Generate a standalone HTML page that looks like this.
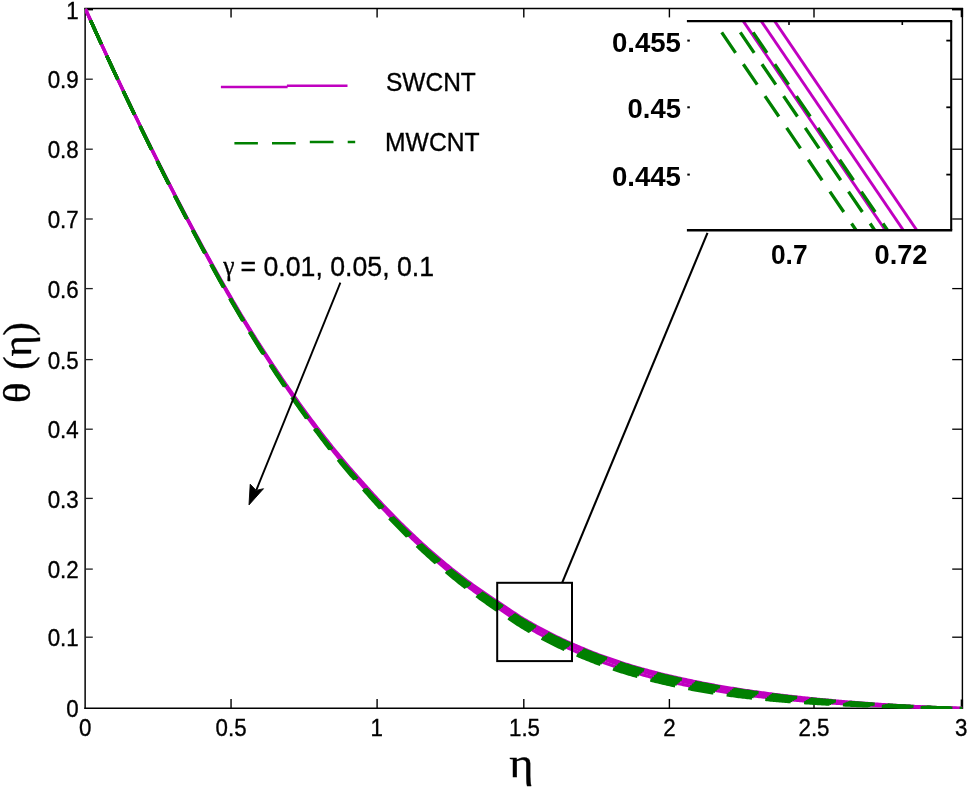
<!DOCTYPE html>
<html lang="en"><head><meta charset="utf-8"><title>θ(η) vs η</title>
<style>html,body{margin:0;padding:0;background:#fff}svg{display:block}text{fill:#000;stroke:#000;stroke-width:0.35px}</style>
</head><body>
<svg width="968" height="789" viewBox="0 0 968 789">
<rect x="0" y="0" width="968" height="789" fill="#fff"/>
<defs><clipPath id="pc"><rect x="85.15" y="8.60" width="877.25" height="700.30"/></clipPath>
<clipPath id="ic"><rect x="687" y="21" width="264.5" height="209.5"/></clipPath></defs>
<g stroke="#000" fill="none">
<line x1="85.15" y1="7.90" x2="85.15" y2="709.00" stroke-width="1.7" stroke="#222"/>
<line x1="84.35" y1="708.30" x2="963.10" y2="708.30" stroke-width="1.5"/>
<line x1="84.35" y1="8.60" x2="963.10" y2="8.60" stroke-width="1.5"/>
<line x1="962.40" y1="7.90" x2="962.40" y2="709.00" stroke-width="1.4"/>
<line x1="231.05" y1="708.30" x2="231.05" y2="699.00" stroke-width="1.4"/>
<line x1="231.05" y1="8.60" x2="231.05" y2="17.40" stroke-width="1.4"/>
<line x1="377.10" y1="708.30" x2="377.10" y2="699.00" stroke-width="1.4"/>
<line x1="377.10" y1="8.60" x2="377.10" y2="17.40" stroke-width="1.4"/>
<line x1="523.80" y1="708.30" x2="523.80" y2="699.00" stroke-width="1.4"/>
<line x1="523.80" y1="8.60" x2="523.80" y2="17.40" stroke-width="1.4"/>
<line x1="669.40" y1="708.30" x2="669.40" y2="699.00" stroke-width="1.4"/>
<line x1="669.40" y1="8.60" x2="669.40" y2="17.40" stroke-width="1.4"/>
<line x1="814.00" y1="708.30" x2="814.00" y2="699.00" stroke-width="1.4"/>
<line x1="814.00" y1="8.60" x2="814.00" y2="17.40" stroke-width="1.4"/>
<line x1="961.90" y1="8.60" x2="961.90" y2="17.20" stroke-width="2.4"/>
<line x1="961.90" y1="708.30" x2="961.90" y2="699.50" stroke-width="2.4"/>
<line x1="85.15" y1="9.20" x2="93.00" y2="9.20" stroke-width="2.4"/>
<line x1="952.00" y1="9.20" x2="962.40" y2="9.20" stroke-width="2.4"/>
<line x1="85.15" y1="637.20" x2="92.80" y2="637.20" stroke-width="1.3" stroke="#222"/>
<line x1="962.40" y1="637.20" x2="952.20" y2="637.20" stroke-width="1.3"/>
<line x1="85.15" y1="569.10" x2="92.80" y2="569.10" stroke-width="1.3" stroke="#222"/>
<line x1="962.40" y1="569.10" x2="952.20" y2="569.10" stroke-width="1.3"/>
<line x1="85.15" y1="498.40" x2="92.80" y2="498.40" stroke-width="1.3" stroke="#222"/>
<line x1="962.40" y1="498.40" x2="952.20" y2="498.40" stroke-width="1.3"/>
<line x1="85.15" y1="429.20" x2="92.80" y2="429.20" stroke-width="1.3" stroke="#222"/>
<line x1="962.40" y1="429.20" x2="952.20" y2="429.20" stroke-width="1.3"/>
<line x1="85.15" y1="359.60" x2="92.80" y2="359.60" stroke-width="1.3" stroke="#222"/>
<line x1="962.40" y1="359.60" x2="952.20" y2="359.60" stroke-width="1.3"/>
<line x1="85.15" y1="288.60" x2="92.80" y2="288.60" stroke-width="1.3" stroke="#222"/>
<line x1="962.40" y1="288.60" x2="952.20" y2="288.60" stroke-width="1.3"/>
<line x1="85.15" y1="219.00" x2="92.80" y2="219.00" stroke-width="1.3" stroke="#222"/>
<line x1="962.40" y1="219.00" x2="952.20" y2="219.00" stroke-width="1.3"/>
<line x1="85.15" y1="149.20" x2="92.80" y2="149.20" stroke-width="1.3" stroke="#222"/>
<line x1="962.40" y1="149.20" x2="952.20" y2="149.20" stroke-width="1.3"/>
<line x1="85.15" y1="79.20" x2="92.80" y2="79.20" stroke-width="1.3" stroke="#222"/>
<line x1="962.40" y1="79.20" x2="952.20" y2="79.20" stroke-width="1.3"/>
</g>
<g clip-path="url(#pc)" fill="none" stroke-linejoin="round">
<path d="M85.15,8.30 L86.61,11.56 L88.07,14.81 L89.54,18.06 L91.00,21.30 L92.46,24.53 L93.92,27.75 L95.38,30.97 L96.85,34.18 L98.31,37.38 L99.77,40.58 L101.23,43.77 L102.69,46.95 L104.16,50.12 L105.62,53.29 L107.08,56.45 L108.54,59.60 L110.00,62.74 L111.47,65.88 L112.93,69.01 L114.39,72.14 L115.85,75.25 L117.31,78.36 L118.78,81.47 L120.24,84.56 L121.70,87.65 L123.16,90.73 L124.62,93.80 L126.09,96.87 L127.55,99.93 L129.01,102.98 L130.47,106.02 L131.93,109.06 L133.40,112.10 L134.86,115.13 L136.32,118.15 L137.78,121.16 L139.24,124.17 L140.71,127.18 L142.17,130.18 L143.63,133.17 L145.09,136.16 L146.55,139.14 L148.02,142.11 L149.48,145.08 L150.94,148.04 L152.40,150.99 L153.86,153.94 L155.33,156.88 L156.79,159.81 L158.25,162.74 L159.71,165.66 L161.17,168.57 L162.64,171.48 L164.10,174.38 L165.56,177.27 L167.02,180.16 L168.48,183.03 L169.95,185.90 L171.41,188.77 L172.87,191.62 L174.33,194.47 L175.79,197.31 L177.26,200.14 L178.72,202.97 L180.18,205.78 L181.64,208.59 L183.10,211.39 L184.57,214.18 L186.03,216.97 L187.49,219.74 L188.95,222.51 L190.41,225.28 L191.88,228.04 L193.34,230.79 L194.80,233.54 L196.26,236.28 L197.72,239.01 L199.19,241.74 L200.65,244.46 L202.11,247.18 L203.57,249.88 L205.03,252.58 L206.50,255.28 L207.96,257.96 L209.42,260.64 L210.88,263.31 L212.34,265.97 L213.81,268.63 L215.27,271.27 L216.73,273.91 L218.19,276.53 L219.65,279.15 L221.12,281.76 L222.58,284.36 L224.04,286.95 L225.50,289.53 L226.96,292.11 L228.43,294.67 L229.89,297.22 L231.35,299.76 L232.81,302.29 L234.27,304.80 L235.74,307.31 L237.20,309.81 L238.66,312.29 L240.12,314.76 L241.58,317.23 L243.05,319.68 L244.51,322.11 L245.97,324.54 L247.43,326.95 L248.89,329.35 L250.36,331.74 L251.82,334.11 L253.28,336.48 L254.74,338.83 L256.20,341.17 L257.67,343.50 L259.13,345.82 L260.59,348.12 L262.05,350.42 L263.51,352.70 L264.98,354.98 L266.44,357.24 L267.90,359.50 L269.36,361.74 L270.82,363.98 L272.29,366.20 L273.75,368.42 L275.21,370.62 L276.67,372.82 L278.13,375.00 L279.60,377.18 L281.06,379.35 L282.52,381.52 L283.98,383.67 L285.44,385.81 L286.91,387.95 L288.37,390.08 L289.83,392.20 L291.29,394.32 L292.75,396.42 L294.22,398.52 L295.68,400.60 L297.14,402.68 L298.60,404.75 L300.06,406.81 L301.53,408.86 L302.99,410.90 L304.45,412.94 L305.91,414.96 L307.37,416.98 L308.84,418.98 L310.30,420.98 L311.76,422.97 L313.22,424.94 L314.68,426.91 L316.15,428.87 L317.61,430.82 L319.07,432.76 L320.53,434.70 L321.99,436.62 L323.46,438.53 L324.92,440.44 L326.38,442.33 L327.84,444.21 L329.30,446.09 L330.77,447.96 L332.23,449.81 L333.69,451.66 L335.15,453.50 L336.61,455.32 L338.08,457.13 L339.54,458.93 L341.00,460.71 L342.46,462.48 L343.92,464.25 L345.39,466.00 L346.85,467.74 L348.31,469.47 L349.77,471.20 L351.23,472.91 L352.70,474.62 L354.16,476.32 L355.62,478.01 L357.08,479.69 L358.54,481.37 L360.01,483.05 L361.47,484.71 L362.93,486.38 L364.39,488.04 L365.85,489.69 L367.32,491.35 L368.78,493.00 L370.24,494.64 L371.70,496.29 L373.16,497.92 L374.63,499.55 L376.09,501.16 L377.55,502.77 L379.01,504.37 L380.47,505.97 L381.94,507.55 L383.40,509.13 L384.86,510.70 L386.32,512.26 L387.78,513.81 L389.25,515.36 L390.71,516.89 L392.17,518.42 L393.63,519.94 L395.09,521.46 L396.56,522.96 L398.02,524.46 L399.48,525.95 L400.94,527.43 L402.40,528.91 L403.87,530.37 L405.33,531.83 L406.79,533.28 L408.25,534.72 L409.71,536.16 L411.18,537.58 L412.64,539.00 L414.10,540.41 L415.56,541.81 L417.02,543.21 L418.49,544.59 L419.95,545.97 L421.41,547.34 L422.87,548.71 L424.33,550.06 L425.80,551.41 L427.26,552.74 L428.72,554.07 L430.18,555.39 L431.64,556.70 L433.11,558.01 L434.57,559.30 L436.03,560.59 L437.49,561.87 L438.95,563.14 L440.42,564.40 L441.88,565.65 L443.34,566.90 L444.80,568.14 L446.26,569.37 L447.73,570.59 L449.19,571.80 L450.65,573.00 L452.11,574.20 L453.57,575.38 L455.04,576.56 L456.50,577.73 L457.96,578.90 L459.42,580.05 L460.88,581.20 L462.35,582.33 L463.81,583.46 L465.27,584.59 L466.73,585.70 L468.19,586.81 L469.66,587.91 L471.12,589.00 L472.58,590.08 L474.04,591.16 L475.50,592.23 L476.97,593.29 L478.43,594.35 L479.89,595.39 L481.35,596.43 L482.81,597.47 L484.28,598.49 L485.74,599.51 L487.20,600.52 L488.66,601.53 L490.12,602.52 L491.59,603.51 L493.05,604.50 L494.51,605.47 L495.97,606.44 L497.43,607.40 L498.90,608.37 L500.36,609.35 L501.82,610.34 L503.28,611.34 L504.74,612.34 L506.21,613.35 L507.67,614.37 L509.13,615.38 L510.59,616.39 L512.05,617.40 L513.52,618.39 L514.98,619.38 L516.44,620.36 L517.90,621.32 L519.36,622.27 L520.83,623.19 L522.29,624.10 L523.75,624.98 L525.21,625.84 L526.67,626.70 L528.14,627.55 L529.60,628.39 L531.06,629.22 L532.52,630.05 L533.98,630.87 L535.45,631.68 L536.91,632.49 L538.37,633.28 L539.83,634.07 L541.29,634.86 L542.76,635.63 L544.22,636.40 L545.68,637.17 L547.14,637.92 L548.60,638.67 L550.07,639.41 L551.53,640.15 L552.99,640.88 L554.45,641.60 L555.91,642.32 L557.38,643.03 L558.84,643.73 L560.30,644.43 L561.76,645.12 L563.22,645.80 L564.69,646.48 L566.15,647.15 L567.61,647.82 L569.07,648.48 L570.53,649.13 L572.00,649.78 L573.46,650.42 L574.92,651.06 L576.38,651.69 L577.84,652.32 L579.31,652.94 L580.77,653.55 L582.23,654.16 L583.69,654.77 L585.15,655.37 L586.62,655.96 L588.08,656.55 L589.54,657.13 L591.00,657.71 L592.46,658.29 L593.93,658.85 L595.39,659.42 L596.85,659.98 L598.31,660.53 L599.77,661.08 L601.24,661.62 L602.70,662.16 L604.16,662.69 L605.62,663.22 L607.08,663.74 L608.55,664.25 L610.01,664.76 L611.47,665.27 L612.93,665.77 L614.39,666.27 L615.86,666.76 L617.32,667.24 L618.78,667.72 L620.24,668.19 L621.70,668.66 L623.17,669.12 L624.63,669.58 L626.09,670.03 L627.55,670.48 L629.01,670.92 L630.48,671.36 L631.94,671.80 L633.40,672.23 L634.86,672.65 L636.32,673.08 L637.79,673.50 L639.25,673.91 L640.71,674.32 L642.17,674.73 L643.63,675.13 L645.10,675.53 L646.56,675.92 L648.02,676.31 L649.48,676.70 L650.94,677.08 L652.41,677.46 L653.87,677.83 L655.33,678.20 L656.79,678.57 L658.25,678.94 L659.72,679.30 L661.18,679.65 L662.64,680.01 L664.10,680.36 L665.56,680.70 L667.03,681.04 L668.49,681.38 L669.95,681.72 L671.41,682.05 L672.87,682.38 L674.34,682.70 L675.80,683.03 L677.26,683.34 L678.72,683.66 L680.18,683.97 L681.65,684.28 L683.11,684.58 L684.57,684.88 L686.03,685.18 L687.49,685.48 L688.96,685.77 L690.42,686.06 L691.88,686.34 L693.34,686.63 L694.80,686.90 L696.27,687.18 L697.73,687.45 L699.19,687.72 L700.65,687.99 L702.11,688.26 L703.58,688.52 L705.04,688.78 L706.50,689.03 L707.96,689.28 L709.42,689.54 L710.89,689.78 L712.35,690.03 L713.81,690.27 L715.27,690.51 L716.73,690.75 L718.20,690.98 L719.66,691.21 L721.12,691.44 L722.58,691.67 L724.04,691.89 L725.51,692.11 L726.97,692.33 L728.43,692.55 L729.89,692.76 L731.35,692.97 L732.82,693.18 L734.28,693.39 L735.74,693.60 L737.20,693.80 L738.66,694.00 L740.13,694.20 L741.59,694.40 L743.05,694.59 L744.51,694.78 L745.97,694.97 L747.44,695.16 L748.90,695.34 L750.36,695.53 L751.82,695.71 L753.28,695.89 L754.75,696.06 L756.21,696.24 L757.67,696.41 L759.13,696.58 L760.59,696.75 L762.06,696.92 L763.52,697.08 L764.98,697.25 L766.44,697.41 L767.90,697.57 L769.37,697.72 L770.83,697.88 L772.29,698.03 L773.75,698.18 L775.21,698.33 L776.68,698.48 L778.14,698.63 L779.60,698.77 L781.06,698.91 L782.52,699.06 L783.99,699.20 L785.45,699.33 L786.91,699.47 L788.37,699.61 L789.83,699.74 L791.30,699.87 L792.76,700.00 L794.22,700.13 L795.68,700.26 L797.14,700.38 L798.61,700.51 L800.07,700.63 L801.53,700.75 L802.99,700.87 L804.45,700.99 L805.92,701.11 L807.38,701.23 L808.84,701.34 L810.30,701.46 L811.76,701.57 L813.23,701.68 L814.69,701.79 L816.15,701.90 L817.61,702.01 L819.07,702.12 L820.54,702.22 L822.00,702.33 L823.46,702.43 L824.92,702.53 L826.38,702.63 L827.85,702.73 L829.31,702.83 L830.77,702.93 L832.23,703.03 L833.69,703.12 L835.16,703.22 L836.62,703.31 L838.08,703.40 L839.54,703.49 L841.00,703.58 L842.47,703.67 L843.93,703.76 L845.39,703.85 L846.85,703.93 L848.31,704.02 L849.78,704.10 L851.24,704.19 L852.70,704.27 L854.16,704.35 L855.62,704.43 L857.09,704.51 L858.55,704.59 L860.01,704.67 L861.47,704.75 L862.93,704.82 L864.40,704.90 L865.86,704.98 L867.32,705.05 L868.78,705.12 L870.24,705.20 L871.71,705.27 L873.17,705.34 L874.63,705.41 L876.09,705.48 L877.55,705.55 L879.02,705.62 L880.48,705.69 L881.94,705.76 L883.40,705.83 L884.86,705.89 L886.33,705.96 L887.79,706.03 L889.25,706.09 L890.71,706.16 L892.17,706.22 L893.64,706.28 L895.10,706.35 L896.56,706.41 L898.02,706.47 L899.48,706.53 L900.95,706.59 L902.41,706.65 L903.87,706.71 L905.33,706.77 L906.79,706.82 L908.26,706.88 L909.72,706.94 L911.18,706.99 L912.64,707.05 L914.10,707.10 L915.57,707.16 L917.03,707.21 L918.49,707.26 L919.95,707.31 L921.41,707.37 L922.88,707.42 L924.34,707.47 L925.80,707.51 L927.26,707.56 L928.72,707.61 L930.19,707.66 L931.65,707.70 L933.11,707.75 L934.57,707.79 L936.03,707.83 L937.50,707.87 L938.96,707.91 L940.42,707.95 L941.88,707.99 L943.34,708.03 L944.81,708.06 L946.27,708.10 L947.73,708.13 L949.19,708.16 L950.65,708.19 L952.12,708.21 L953.58,708.23 L955.04,708.25 L956.50,708.27 L957.96,708.29 L959.43,708.30 L960.89,708.30 L962.35,708.30" stroke="#c000c0" stroke-width="3.2"/>
<path d="M85.15,8.30 L86.61,11.55 L88.07,14.80 L89.54,18.03 L91.00,21.26 L92.46,24.49 L93.92,27.70 L95.38,30.91 L96.85,34.12 L98.31,37.31 L99.77,40.50 L101.23,43.68 L102.69,46.85 L104.16,50.02 L105.62,53.17 L107.08,56.33 L108.54,59.47 L110.00,62.61 L111.47,65.74 L112.93,68.86 L114.39,71.98 L115.85,75.08 L117.31,78.18 L118.78,81.28 L120.24,84.37 L121.70,87.44 L123.16,90.52 L124.62,93.58 L126.09,96.64 L127.55,99.69 L129.01,102.73 L130.47,105.77 L131.93,108.80 L133.40,111.82 L134.86,114.84 L136.32,117.86 L137.78,120.87 L139.24,123.87 L140.71,126.86 L142.17,129.85 L143.63,132.84 L145.09,135.81 L146.55,138.78 L148.02,141.75 L149.48,144.71 L150.94,147.66 L152.40,150.60 L153.86,153.54 L155.33,156.47 L156.79,159.40 L158.25,162.32 L159.71,165.23 L161.17,168.13 L162.64,171.03 L164.10,173.92 L165.56,176.80 L167.02,179.68 L168.48,182.55 L169.95,185.41 L171.41,188.26 L172.87,191.11 L174.33,193.94 L175.79,196.78 L177.26,199.60 L178.72,202.41 L180.18,205.22 L181.64,208.02 L183.10,210.81 L184.57,213.59 L186.03,216.37 L187.49,219.13 L188.95,221.89 L190.41,224.65 L191.88,227.40 L193.34,230.14 L194.80,232.88 L196.26,235.61 L197.72,238.33 L199.19,241.05 L200.65,243.76 L202.11,246.47 L203.57,249.17 L205.03,251.86 L206.50,254.54 L207.96,257.21 L209.42,259.88 L210.88,262.54 L212.34,265.19 L213.81,267.84 L215.27,270.47 L216.73,273.10 L218.19,275.71 L219.65,278.32 L221.12,280.92 L222.58,283.51 L224.04,286.09 L225.50,288.66 L226.96,291.22 L228.43,293.77 L229.89,296.31 L231.35,298.84 L232.81,301.35 L234.27,303.86 L235.74,306.36 L237.20,308.84 L238.66,311.32 L240.12,313.78 L241.58,316.23 L243.05,318.67 L244.51,321.10 L245.97,323.51 L247.43,325.91 L248.89,328.30 L250.36,330.68 L251.82,333.04 L253.28,335.39 L254.74,337.74 L256.20,340.07 L257.67,342.38 L259.13,344.69 L260.59,346.99 L262.05,349.27 L263.51,351.55 L264.98,353.81 L266.44,356.06 L267.90,358.31 L269.36,360.54 L270.82,362.77 L272.29,364.98 L273.75,367.18 L275.21,369.38 L276.67,371.57 L278.13,373.74 L279.60,375.91 L281.06,378.07 L282.52,380.22 L283.98,382.37 L285.44,384.50 L286.91,386.63 L288.37,388.75 L289.83,390.86 L291.29,392.97 L292.75,395.06 L294.22,397.15 L295.68,399.23 L297.14,401.29 L298.60,403.35 L300.06,405.40 L301.53,407.44 L302.99,409.47 L304.45,411.49 L305.91,413.51 L307.37,415.51 L308.84,417.50 L310.30,419.49 L311.76,421.46 L313.22,423.43 L314.68,425.38 L316.15,427.33 L317.61,429.27 L319.07,431.20 L320.53,433.12 L321.99,435.02 L323.46,436.92 L324.92,438.81 L326.38,440.70 L327.84,442.57 L329.30,444.43 L330.77,446.28 L332.23,448.12 L333.69,449.96 L335.15,451.78 L336.61,453.59 L338.08,455.38 L339.54,457.17 L341.00,458.94 L342.46,460.70 L343.92,462.44 L345.39,464.18 L346.85,465.91 L348.31,467.63 L349.77,469.33 L351.23,471.04 L352.70,472.73 L354.16,474.41 L355.62,476.09 L357.08,477.76 L358.54,479.42 L360.01,481.08 L361.47,482.74 L362.93,484.39 L364.39,486.03 L365.85,487.68 L367.32,489.31 L368.78,490.95 L370.24,492.58 L371.70,494.21 L373.16,495.83 L374.63,497.45 L376.09,499.05 L377.55,500.65 L379.01,502.24 L380.47,503.82 L381.94,505.39 L383.40,506.95 L384.86,508.51 L386.32,510.06 L387.78,511.60 L389.25,513.13 L390.71,514.65 L392.17,516.17 L393.63,517.68 L395.09,519.18 L396.56,520.67 L398.02,522.16 L399.48,523.64 L400.94,525.11 L402.40,526.57 L403.87,528.02 L405.33,529.47 L406.79,530.90 L408.25,532.33 L409.71,533.76 L411.18,535.17 L412.64,536.58 L414.10,537.97 L415.56,539.36 L417.02,540.75 L418.49,542.12 L419.95,543.49 L421.41,544.85 L422.87,546.20 L424.33,547.54 L425.80,548.87 L427.26,550.20 L428.72,551.52 L430.18,552.82 L431.64,554.12 L433.11,555.42 L434.57,556.70 L436.03,557.98 L437.49,559.24 L438.95,560.50 L440.42,561.75 L441.88,563.00 L443.34,564.23 L444.80,565.46 L446.26,566.67 L447.73,567.88 L449.19,569.08 L450.65,570.28 L452.11,571.46 L453.57,572.64 L455.04,573.81 L456.50,574.97 L457.96,576.12 L459.42,577.26 L460.88,578.40 L462.35,579.53 L463.81,580.64 L465.27,581.75 L466.73,582.86 L468.19,583.95 L469.66,585.04 L471.12,586.12 L472.58,587.19 L474.04,588.25 L475.50,589.31 L476.97,590.36 L478.43,591.40 L479.89,592.44 L481.35,593.47 L482.81,594.49 L484.28,595.50 L485.74,596.50 L487.20,597.50 L488.66,598.50 L490.12,599.48 L491.59,600.46 L493.05,601.43 L494.51,602.39 L495.97,603.35 L497.43,604.30 L498.90,605.25 L500.36,606.22 L501.82,607.21 L503.28,608.20 L504.74,609.19 L506.21,610.20 L507.67,611.20 L509.13,612.21 L510.59,613.21 L512.05,614.21 L513.52,615.20 L514.98,616.19 L516.44,617.16 L517.90,618.12 L519.36,619.06 L520.83,619.99 L522.29,620.89 L523.75,621.77 L525.21,622.63 L526.67,623.49 L528.14,624.34 L529.60,625.18 L531.06,626.01 L532.52,626.84 L533.98,627.66 L535.45,628.47 L536.91,629.28 L538.37,630.08 L539.83,630.87 L541.29,631.65 L542.76,632.43 L544.22,633.20 L545.68,633.96 L547.14,634.72 L548.60,635.46 L550.07,636.21 L551.53,636.94 L552.99,637.67 L554.45,638.40 L555.91,639.11 L557.38,639.82 L558.84,640.53 L560.30,641.22 L561.76,641.91 L563.22,642.60 L564.69,643.28 L566.15,643.95 L567.61,644.62 L569.07,645.28 L570.53,645.93 L572.00,646.58 L573.46,647.23 L574.92,647.86 L576.38,648.50 L577.84,649.12 L579.31,649.74 L580.77,650.36 L582.23,650.97 L583.69,651.57 L585.15,652.17 L586.62,652.77 L588.08,653.36 L589.54,653.94 L591.00,654.52 L592.46,655.10 L593.93,655.67 L595.39,656.23 L596.85,656.79 L598.31,657.34 L599.77,657.89 L601.24,658.44 L602.70,658.98 L604.16,659.51 L605.62,660.04 L607.08,660.56 L608.55,661.08 L610.01,661.59 L611.47,662.10 L612.93,662.60 L614.39,663.10 L615.86,663.59 L617.32,664.08 L618.78,664.56 L620.24,665.03 L621.70,665.50 L623.17,665.97 L624.63,666.43 L626.09,666.88 L627.55,667.33 L629.01,667.78 L630.48,668.22 L631.94,668.66 L633.40,669.09 L634.86,669.52 L636.32,669.95 L637.79,670.37 L639.25,670.79 L640.71,671.20 L642.17,671.61 L643.63,672.01 L645.10,672.42 L646.56,672.81 L648.02,673.21 L649.48,673.60 L650.94,673.98 L652.41,674.37 L653.87,674.75 L655.33,675.12 L656.79,675.49 L658.25,675.86 L659.72,676.23 L661.18,676.59 L662.64,676.95 L664.10,677.30 L665.56,677.65 L667.03,678.00 L668.49,678.34 L669.95,678.68 L671.41,679.02 L672.87,679.35 L674.34,679.68 L675.80,680.01 L677.26,680.34 L678.72,680.66 L680.18,680.98 L681.65,681.29 L683.11,681.60 L684.57,681.91 L686.03,682.22 L687.49,682.53 L688.96,682.83 L690.42,683.13 L691.88,683.42 L693.34,683.71 L694.80,684.00 L696.27,684.29 L697.73,684.58 L699.19,684.86 L700.65,685.14 L702.11,685.41 L703.58,685.69 L705.04,685.96 L706.50,686.23 L707.96,686.49 L709.42,686.76 L710.89,687.02 L712.35,687.28 L713.81,687.53 L715.27,687.78 L716.73,688.04 L718.20,688.28 L719.66,688.53 L721.12,688.77 L722.58,689.01 L724.04,689.25 L725.51,689.49 L726.97,689.72 L728.43,689.95 L729.89,690.18 L731.35,690.41 L732.82,690.63 L734.28,690.85 L735.74,691.07 L737.20,691.29 L738.66,691.51 L740.13,691.72 L741.59,691.93 L743.05,692.14 L744.51,692.35 L745.97,692.55 L747.44,692.75 L748.90,692.96 L750.36,693.15 L751.82,693.35 L753.28,693.55 L754.75,693.74 L756.21,693.93 L757.67,694.12 L759.13,694.31 L760.59,694.50 L762.06,694.68 L763.52,694.86 L764.98,695.04 L766.44,695.22 L767.90,695.40 L769.37,695.58 L770.83,695.75 L772.29,695.92 L773.75,696.09 L775.21,696.26 L776.68,696.43 L778.14,696.60 L779.60,696.76 L781.06,696.93 L782.52,697.09 L783.99,697.25 L785.45,697.40 L786.91,697.56 L788.37,697.72 L789.83,697.87 L791.30,698.02 L792.76,698.17 L794.22,698.32 L795.68,698.47 L797.14,698.61 L798.61,698.76 L800.07,698.90 L801.53,699.04 L802.99,699.18 L804.45,699.32 L805.92,699.46 L807.38,699.60 L808.84,699.73 L810.30,699.86 L811.76,700.00 L813.23,700.13 L814.69,700.26 L816.15,700.38 L817.61,700.51 L819.07,700.64 L820.54,700.76 L822.00,700.88 L823.46,701.00 L824.92,701.13 L826.38,701.25 L827.85,701.36 L829.31,701.48 L830.77,701.60 L832.23,701.71 L833.69,701.83 L835.16,701.94 L836.62,702.05 L838.08,702.17 L839.54,702.28 L841.00,702.39 L842.47,702.49 L843.93,702.60 L845.39,702.71 L846.85,702.81 L848.31,702.92 L849.78,703.02 L851.24,703.12 L852.70,703.23 L854.16,703.33 L855.62,703.43 L857.09,703.53 L858.55,703.62 L860.01,703.72 L861.47,703.82 L862.93,703.91 L864.40,704.01 L865.86,704.10 L867.32,704.19 L868.78,704.28 L870.24,704.37 L871.71,704.46 L873.17,704.55 L874.63,704.64 L876.09,704.73 L877.55,704.82 L879.02,704.90 L880.48,704.99 L881.94,705.07 L883.40,705.15 L884.86,705.24 L886.33,705.32 L887.79,705.40 L889.25,705.48 L890.71,705.56 L892.17,705.64 L893.64,705.71 L895.10,705.79 L896.56,705.87 L898.02,705.94 L899.48,706.02 L900.95,706.09 L902.41,706.16 L903.87,706.24 L905.33,706.31 L906.79,706.38 L908.26,706.45 L909.72,706.52 L911.18,706.59 L912.64,706.66 L914.10,706.73 L915.57,706.79 L917.03,706.86 L918.49,706.93 L919.95,706.99 L921.41,707.05 L922.88,707.12 L924.34,707.18 L925.80,707.24 L927.26,707.30 L928.72,707.36 L930.19,707.42 L931.65,707.48 L933.11,707.53 L934.57,707.59 L936.03,707.64 L937.50,707.70 L938.96,707.75 L940.42,707.80 L941.88,707.85 L943.34,707.90 L944.81,707.94 L946.27,707.99 L947.73,708.03 L949.19,708.07 L950.65,708.11 L952.12,708.14 L953.58,708.18 L955.04,708.21 L956.50,708.23 L957.96,708.26 L959.43,708.28 L960.89,708.29 L962.35,708.30" stroke="#c000c0" stroke-width="3.2"/>
<path d="M85.15,8.30 L86.61,11.55 L88.07,14.79 L89.54,18.02 L91.00,21.24 L92.46,24.46 L93.92,27.67 L95.38,30.87 L96.85,34.07 L98.31,37.26 L99.77,40.44 L101.23,43.61 L102.69,46.78 L104.16,49.94 L105.62,53.09 L107.08,56.24 L108.54,59.38 L110.00,62.51 L111.47,65.63 L112.93,68.75 L114.39,71.86 L115.85,74.96 L117.31,78.06 L118.78,81.14 L120.24,84.22 L121.70,87.30 L123.16,90.36 L124.62,93.42 L126.09,96.47 L127.55,99.52 L129.01,102.55 L130.47,105.58 L131.93,108.61 L133.40,111.63 L134.86,114.64 L136.32,117.65 L137.78,120.65 L139.24,123.64 L140.71,126.63 L142.17,129.62 L143.63,132.59 L145.09,135.57 L146.55,138.53 L148.02,141.49 L149.48,144.44 L150.94,147.38 L152.40,150.32 L153.86,153.26 L155.33,156.18 L156.79,159.10 L158.25,162.01 L159.71,164.91 L161.17,167.81 L162.64,170.70 L164.10,173.59 L165.56,176.46 L167.02,179.33 L168.48,182.19 L169.95,185.05 L171.41,187.89 L172.87,190.73 L174.33,193.57 L175.79,196.39 L177.26,199.20 L178.72,202.01 L180.18,204.81 L181.64,207.61 L183.10,210.39 L184.57,213.17 L186.03,215.93 L187.49,218.69 L188.95,221.45 L190.41,224.19 L191.88,226.94 L193.34,229.67 L194.80,232.40 L196.26,235.13 L197.72,237.84 L199.19,240.55 L200.65,243.26 L202.11,245.96 L203.57,248.65 L205.03,251.33 L206.50,254.00 L207.96,256.67 L209.42,259.33 L210.88,261.98 L212.34,264.63 L213.81,267.26 L215.27,269.89 L216.73,272.51 L218.19,275.12 L219.65,277.72 L221.12,280.31 L222.58,282.89 L224.04,285.46 L225.50,288.02 L226.96,290.58 L228.43,293.12 L229.89,295.65 L231.35,298.17 L232.81,300.68 L234.27,303.18 L235.74,305.67 L237.20,308.15 L238.66,310.61 L240.12,313.07 L241.58,315.51 L243.05,317.94 L244.51,320.36 L245.97,322.76 L247.43,325.16 L248.89,327.54 L250.36,329.91 L251.82,332.27 L253.28,334.61 L254.74,336.94 L256.20,339.27 L257.67,341.58 L259.13,343.88 L260.59,346.16 L262.05,348.44 L263.51,350.71 L264.98,352.97 L266.44,355.21 L267.90,357.45 L269.36,359.67 L270.82,361.89 L272.29,364.10 L273.75,366.29 L275.21,368.48 L276.67,370.66 L278.13,372.83 L279.60,374.99 L281.06,377.14 L282.52,379.29 L283.98,381.43 L285.44,383.55 L286.91,385.67 L288.37,387.79 L289.83,389.89 L291.29,391.99 L292.75,394.08 L294.22,396.16 L295.68,398.23 L297.14,400.29 L298.60,402.34 L300.06,404.38 L301.53,406.41 L302.99,408.43 L304.45,410.45 L305.91,412.45 L307.37,414.44 L308.84,416.43 L310.30,418.40 L311.76,420.37 L313.22,422.33 L314.68,424.27 L316.15,426.21 L317.61,428.14 L319.07,430.06 L320.53,431.96 L321.99,433.86 L323.46,435.75 L324.92,437.63 L326.38,439.50 L327.84,441.36 L329.30,443.21 L330.77,445.06 L332.23,446.89 L333.69,448.71 L335.15,450.52 L336.61,452.32 L338.08,454.10 L339.54,455.87 L341.00,457.63 L342.46,459.38 L343.92,461.11 L345.39,462.84 L346.85,464.55 L348.31,466.26 L349.77,467.96 L351.23,469.65 L352.70,471.33 L354.16,473.00 L355.62,474.66 L357.08,476.32 L358.54,477.97 L360.01,479.62 L361.47,481.26 L362.93,482.90 L364.39,484.53 L365.85,486.16 L367.32,487.79 L368.78,489.41 L370.24,491.03 L371.70,492.65 L373.16,494.26 L374.63,495.86 L376.09,497.45 L377.55,499.04 L379.01,500.61 L380.47,502.18 L381.94,503.74 L383.40,505.29 L384.86,506.84 L386.32,508.37 L387.78,509.90 L389.25,511.42 L390.71,512.93 L392.17,514.43 L393.63,515.93 L395.09,517.41 L396.56,518.89 L398.02,520.36 L399.48,521.82 L400.94,523.28 L402.40,524.73 L403.87,526.16 L405.33,527.60 L406.79,529.02 L408.25,530.43 L409.71,531.84 L411.18,533.24 L412.64,534.63 L414.10,536.01 L415.56,537.39 L417.02,538.75 L418.49,540.11 L419.95,541.46 L421.41,542.81 L422.87,544.14 L424.33,545.47 L425.80,546.79 L427.26,548.10 L428.72,549.40 L430.18,550.70 L431.64,551.98 L433.11,553.26 L434.57,554.53 L436.03,555.79 L437.49,557.04 L438.95,558.29 L440.42,559.52 L441.88,560.75 L443.34,561.97 L444.80,563.19 L446.26,564.39 L447.73,565.59 L449.19,566.78 L450.65,567.96 L452.11,569.13 L453.57,570.30 L455.04,571.45 L456.50,572.60 L457.96,573.74 L459.42,574.88 L460.88,576.00 L462.35,577.12 L463.81,578.23 L465.27,579.33 L466.73,580.42 L468.19,581.50 L469.66,582.58 L471.12,583.65 L472.58,584.71 L474.04,585.76 L475.50,586.81 L476.97,587.85 L478.43,588.88 L479.89,589.90 L481.35,590.92 L482.81,591.93 L484.28,592.93 L485.74,593.93 L487.20,594.92 L488.66,595.90 L490.12,596.87 L491.59,597.84 L493.05,598.80 L494.51,599.75 L495.97,600.70 L497.43,601.64 L498.90,602.59 L500.36,603.55 L501.82,604.52 L503.28,605.50 L504.74,606.49 L506.21,607.49 L507.67,608.49 L509.13,609.49 L510.59,610.49 L512.05,611.48 L513.52,612.47 L514.98,613.45 L516.44,614.42 L517.90,615.37 L519.36,616.31 L520.83,617.24 L522.29,618.14 L523.75,619.02 L525.21,619.88 L526.67,620.74 L528.14,621.59 L529.60,622.43 L531.06,623.26 L532.52,624.09 L533.98,624.91 L535.45,625.72 L536.91,626.53 L538.37,627.33 L539.83,628.12 L541.29,628.90 L542.76,629.68 L544.22,630.45 L545.68,631.21 L547.14,631.97 L548.60,632.72 L550.07,633.46 L551.53,634.20 L552.99,634.93 L554.45,635.65 L555.91,636.37 L557.38,637.08 L558.84,637.78 L560.30,638.48 L561.76,639.17 L563.22,639.86 L564.69,640.53 L566.15,641.21 L567.61,641.88 L569.07,642.54 L570.53,643.19 L572.00,643.84 L573.46,644.49 L574.92,645.12 L576.38,645.76 L577.84,646.38 L579.31,647.01 L580.77,647.62 L582.23,648.23 L583.69,648.84 L585.15,649.44 L586.62,650.03 L588.08,650.63 L589.54,651.21 L591.00,651.79 L592.46,652.37 L593.93,652.94 L595.39,653.50 L596.85,654.06 L598.31,654.62 L599.77,655.16 L601.24,655.71 L602.70,656.25 L604.16,656.78 L605.62,657.31 L607.08,657.84 L608.55,658.36 L610.01,658.87 L611.47,659.38 L612.93,659.88 L614.39,660.38 L615.86,660.88 L617.32,661.36 L618.78,661.85 L620.24,662.32 L621.70,662.80 L623.17,663.27 L624.63,663.73 L626.09,664.18 L627.55,664.64 L629.01,665.09 L630.48,665.53 L631.94,665.97 L633.40,666.41 L634.86,666.84 L636.32,667.27 L637.79,667.69 L639.25,668.11 L640.71,668.53 L642.17,668.94 L643.63,669.35 L645.10,669.75 L646.56,670.15 L648.02,670.55 L649.48,670.94 L650.94,671.33 L652.41,671.72 L653.87,672.10 L655.33,672.48 L656.79,672.86 L658.25,673.23 L659.72,673.60 L661.18,673.96 L662.64,674.32 L664.10,674.68 L665.56,675.03 L667.03,675.38 L668.49,675.73 L669.95,676.08 L671.41,676.42 L672.87,676.76 L674.34,677.09 L675.80,677.43 L677.26,677.76 L678.72,678.08 L680.18,678.41 L681.65,678.73 L683.11,679.05 L684.57,679.37 L686.03,679.68 L687.49,680.00 L688.96,680.31 L690.42,680.61 L691.88,680.92 L693.34,681.22 L694.80,681.52 L696.27,681.82 L697.73,682.11 L699.19,682.40 L700.65,682.69 L702.11,682.98 L703.58,683.26 L705.04,683.54 L706.50,683.82 L707.96,684.10 L709.42,684.37 L710.89,684.65 L712.35,684.92 L713.81,685.18 L715.27,685.45 L716.73,685.71 L718.20,685.97 L719.66,686.23 L721.12,686.49 L722.58,686.74 L724.04,686.99 L725.51,687.24 L726.97,687.48 L728.43,687.73 L729.89,687.97 L731.35,688.21 L732.82,688.45 L734.28,688.68 L735.74,688.91 L737.20,689.14 L738.66,689.37 L740.13,689.60 L741.59,689.82 L743.05,690.04 L744.51,690.26 L745.97,690.48 L747.44,690.69 L748.90,690.91 L750.36,691.12 L751.82,691.33 L753.28,691.54 L754.75,691.75 L756.21,691.95 L757.67,692.16 L759.13,692.36 L760.59,692.56 L762.06,692.76 L763.52,692.96 L764.98,693.16 L766.44,693.35 L767.90,693.55 L769.37,693.74 L770.83,693.93 L772.29,694.12 L773.75,694.31 L775.21,694.49 L776.68,694.68 L778.14,694.86 L779.60,695.04 L781.06,695.22 L782.52,695.40 L783.99,695.57 L785.45,695.75 L786.91,695.92 L788.37,696.10 L789.83,696.27 L791.30,696.44 L792.76,696.60 L794.22,696.77 L795.68,696.93 L797.14,697.10 L798.61,697.26 L800.07,697.42 L801.53,697.58 L802.99,697.73 L804.45,697.89 L805.92,698.04 L807.38,698.20 L808.84,698.35 L810.30,698.50 L811.76,698.65 L813.23,698.79 L814.69,698.94 L816.15,699.08 L817.61,699.22 L819.07,699.36 L820.54,699.51 L822.00,699.64 L823.46,699.78 L824.92,699.92 L826.38,700.06 L827.85,700.19 L829.31,700.33 L830.77,700.46 L832.23,700.59 L833.69,700.72 L835.16,700.85 L836.62,700.98 L838.08,701.11 L839.54,701.24 L841.00,701.36 L842.47,701.49 L843.93,701.61 L845.39,701.73 L846.85,701.85 L848.31,701.98 L849.78,702.10 L851.24,702.21 L852.70,702.33 L854.16,702.45 L855.62,702.57 L857.09,702.68 L858.55,702.79 L860.01,702.91 L861.47,703.02 L862.93,703.13 L864.40,703.24 L865.86,703.35 L867.32,703.46 L868.78,703.56 L870.24,703.67 L871.71,703.77 L873.17,703.88 L874.63,703.98 L876.09,704.08 L877.55,704.18 L879.02,704.28 L880.48,704.38 L881.94,704.48 L883.40,704.58 L884.86,704.67 L886.33,704.77 L887.79,704.86 L889.25,704.95 L890.71,705.04 L892.17,705.14 L893.64,705.23 L895.10,705.32 L896.56,705.40 L898.02,705.49 L899.48,705.58 L900.95,705.66 L902.41,705.75 L903.87,705.83 L905.33,705.92 L906.79,706.00 L908.26,706.08 L909.72,706.17 L911.18,706.25 L912.64,706.33 L914.10,706.41 L915.57,706.48 L917.03,706.56 L918.49,706.64 L919.95,706.71 L921.41,706.79 L922.88,706.86 L924.34,706.94 L925.80,707.01 L927.26,707.08 L928.72,707.15 L930.19,707.22 L931.65,707.28 L933.11,707.35 L934.57,707.42 L936.03,707.48 L937.50,707.54 L938.96,707.61 L940.42,707.67 L941.88,707.72 L943.34,707.78 L944.81,707.84 L946.27,707.89 L947.73,707.94 L949.19,707.99 L950.65,708.04 L952.12,708.08 L953.58,708.13 L955.04,708.16 L956.50,708.20 L957.96,708.23 L959.43,708.26 L960.89,708.28 L962.35,708.30" stroke="#c000c0" stroke-width="3.2"/>
<path d="M85.15,8.30 L86.61,11.57 L88.07,14.84 L89.54,18.10 L91.00,21.35 L92.46,24.60 L93.92,27.83 L95.38,31.06 L96.85,34.29 L98.31,37.50 L99.77,40.71 L101.23,43.92 L102.69,47.11 L104.16,50.30 L105.62,53.48 L107.08,56.65 L108.54,59.82 L110.00,62.98 L111.47,66.13 L112.93,69.28 L114.39,72.42 L115.85,75.55 L117.31,78.67 L118.78,81.79 L120.24,84.90 L121.70,88.00 L123.16,91.10 L124.62,94.18 L126.09,97.26 L127.55,100.34 L129.01,103.40 L130.47,106.46 L131.93,109.52 L133.40,112.57 L134.86,115.61 L136.32,118.65 L137.78,121.68 L139.24,124.70 L140.71,127.72 L142.17,130.74 L143.63,133.75 L145.09,136.75 L146.55,139.74 L148.02,142.73 L149.48,145.71 L150.94,148.69 L152.40,151.66 L153.86,154.62 L155.33,157.58 L156.79,160.53 L158.25,163.47 L159.71,166.41 L161.17,169.34 L162.64,172.26 L164.10,175.17 L165.56,178.08 L167.02,180.98 L168.48,183.87 L169.95,186.76 L171.41,189.64 L172.87,192.51 L174.33,195.37 L175.79,198.23 L177.26,201.08 L178.72,203.92 L180.18,206.75 L181.64,209.58 L183.10,212.39 L184.57,215.20 L186.03,218.00 L187.49,220.79 L188.95,223.58 L190.41,226.36 L191.88,229.14 L193.34,231.91 L194.80,234.67 L196.26,237.43 L197.72,240.18 L199.19,242.92 L200.65,245.66 L202.11,248.40 L203.57,251.12 L205.03,253.84 L206.50,256.55 L207.96,259.25 L209.42,261.95 L210.88,264.64 L212.34,267.32 L213.81,269.99 L215.27,272.65 L216.73,275.31 L218.19,277.95 L219.65,280.59 L221.12,283.22 L222.58,285.84 L224.04,288.45 L225.50,291.05 L226.96,293.63 L228.43,296.21 L229.89,298.78 L231.35,301.34 L232.81,303.89 L234.27,306.43 L235.74,308.95 L237.20,311.47 L238.66,313.97 L240.12,316.46 L241.58,318.94 L243.05,321.41 L244.51,323.87 L245.97,326.31 L247.43,328.74 L248.89,331.16 L250.36,333.57 L251.82,335.96 L253.28,338.34 L254.74,340.72 L256.20,343.07 L257.67,345.42 L259.13,347.76 L260.59,350.08 L262.05,352.40 L263.51,354.70 L264.98,356.99 L266.44,359.28 L267.90,361.55 L269.36,363.81 L270.82,366.06 L272.29,368.30 L273.75,370.54 L275.21,372.76 L276.67,374.97 L278.13,377.18 L279.60,379.38 L281.06,381.56 L282.52,383.74 L283.98,385.91 L285.44,388.07 L286.91,390.23 L288.37,392.37 L289.83,394.51 L291.29,396.64 L292.75,398.76 L294.22,400.87 L295.68,402.98 L297.14,405.07 L298.60,407.15 L300.06,409.23 L301.53,411.29 L302.99,413.34 L304.45,415.39 L305.91,417.42 L307.37,419.45 L308.84,421.47 L310.30,423.47 L311.76,425.47 L313.22,427.46 L314.68,429.44 L316.15,431.40 L317.61,433.36 L319.07,435.31 L320.53,437.25 L321.99,439.18 L323.46,441.10 L324.92,443.01 L326.38,444.91 L327.84,446.80 L329.30,448.69 L330.77,450.56 L332.23,452.42 L333.69,454.27 L335.15,456.11 L336.61,457.94 L338.08,459.75 L339.54,461.55 L341.00,463.34 L342.46,465.12 L343.92,466.88 L345.39,468.64 L346.85,470.38 L348.31,472.12 L349.77,473.85 L351.23,475.56 L352.70,477.27 L354.16,478.97 L355.62,480.67 L357.08,482.36 L358.54,484.04 L360.01,485.71 L361.47,487.39 L362.93,489.05 L364.39,490.71 L365.85,492.37 L367.32,494.03 L368.78,495.68 L370.24,497.33 L371.70,498.98 L373.16,500.61 L374.63,502.24 L376.09,503.86 L377.55,505.48 L379.01,507.08 L380.47,508.68 L381.94,510.27 L383.40,511.85 L384.86,513.42 L386.32,514.98 L387.78,516.54 L389.25,518.08 L390.71,519.62 L392.17,521.15 L393.63,522.68 L395.09,524.19 L396.56,525.70 L398.02,527.19 L399.48,528.68 L400.94,530.17 L402.40,531.64 L403.87,533.11 L405.33,534.56 L406.79,536.01 L408.25,537.46 L409.71,538.89 L411.18,540.31 L412.64,541.73 L414.10,543.14 L415.56,544.54 L417.02,545.94 L418.49,547.32 L419.95,548.70 L421.41,550.07 L422.87,551.43 L424.33,552.79 L425.80,554.13 L427.26,555.47 L428.72,556.80 L430.18,558.12 L431.64,559.43 L433.11,560.74 L434.57,562.03 L436.03,563.32 L437.49,564.60 L438.95,565.87 L440.42,567.14 L441.88,568.39 L443.34,569.64 L444.80,570.88 L446.26,572.11 L447.73,573.34 L449.19,574.55 L450.65,575.76 L452.11,576.96 L453.57,578.15 L455.04,579.34 L456.50,580.51 L457.96,581.68 L459.42,582.84 L460.88,584.00 L462.35,585.15 L463.81,586.29 L465.27,587.42 L466.73,588.55 L468.19,589.66 L469.66,590.78 L471.12,591.88 L472.58,592.98 L474.04,594.07 L475.50,595.15 L476.97,596.22 L478.43,597.29 L479.89,598.35 L481.35,599.40 L482.81,600.45 L484.28,601.49 L485.74,602.52 L487.20,603.54 L488.66,604.56 L490.12,605.57 L491.59,606.57 L493.05,607.56 L494.51,608.55 L495.97,609.53 L497.43,610.50 L498.90,611.48 L500.36,612.47 L501.82,613.47 L503.28,614.48 L504.74,615.49 L506.21,616.51 L507.67,617.53 L509.13,618.55 L510.59,619.57 L512.05,620.58 L513.52,621.59 L514.98,622.58 L516.44,623.56 L517.90,624.52 L519.36,625.47 L520.83,626.40 L522.29,627.31 L523.75,628.19 L525.21,629.05 L526.67,629.91 L528.14,630.76 L529.60,631.60 L531.06,632.43 L532.52,633.26 L533.98,634.08 L535.45,634.89 L536.91,635.69 L538.37,636.49 L539.83,637.28 L541.29,638.07 L542.76,638.84 L544.22,639.61 L545.68,640.37 L547.14,641.13 L548.60,641.88 L550.07,642.62 L551.53,643.35 L552.99,644.08 L554.45,644.80 L555.91,645.52 L557.38,646.23 L558.84,646.93 L560.30,647.63 L561.76,648.32 L563.22,649.00 L564.69,649.68 L566.15,650.35 L567.61,651.02 L569.07,651.68 L570.53,652.33 L572.00,652.98 L573.46,653.62 L574.92,654.26 L576.38,654.89 L577.84,655.51 L579.31,656.13 L580.77,656.75 L582.23,657.36 L583.69,657.96 L585.15,658.56 L586.62,659.15 L588.08,659.74 L589.54,660.32 L591.00,660.90 L592.46,661.47 L593.93,662.04 L595.39,662.60 L596.85,663.16 L598.31,663.71 L599.77,664.26 L601.24,664.80 L602.70,665.34 L604.16,665.87 L605.62,666.39 L607.08,666.91 L608.55,667.43 L610.01,667.94 L611.47,668.44 L612.93,668.94 L614.39,669.43 L615.86,669.92 L617.32,670.40 L618.78,670.88 L620.24,671.35 L621.70,671.82 L623.17,672.28 L624.63,672.73 L626.09,673.18 L627.55,673.63 L629.01,674.07 L630.48,674.51 L631.94,674.94 L633.40,675.36 L634.86,675.79 L636.32,676.21 L637.79,676.62 L639.25,677.03 L640.71,677.44 L642.17,677.84 L643.63,678.24 L645.10,678.63 L646.56,679.02 L648.02,679.41 L649.48,679.79 L650.94,680.17 L652.41,680.55 L653.87,680.92 L655.33,681.29 L656.79,681.65 L658.25,682.01 L659.72,682.37 L661.18,682.72 L662.64,683.07 L664.10,683.41 L665.56,683.75 L667.03,684.09 L668.49,684.43 L669.95,684.76 L671.41,685.08 L672.87,685.41 L674.34,685.73 L675.80,686.04 L677.26,686.35 L678.72,686.66 L680.18,686.97 L681.65,687.27 L683.11,687.56 L684.57,687.85 L686.03,688.14 L687.49,688.43 L688.96,688.71 L690.42,688.99 L691.88,689.27 L693.34,689.54 L694.80,689.81 L696.27,690.07 L697.73,690.33 L699.19,690.59 L700.65,690.85 L702.11,691.10 L703.58,691.35 L705.04,691.59 L706.50,691.84 L707.96,692.08 L709.42,692.31 L710.89,692.55 L712.35,692.78 L713.81,693.01 L715.27,693.23 L716.73,693.46 L718.20,693.68 L719.66,693.89 L721.12,694.11 L722.58,694.32 L724.04,694.53 L725.51,694.74 L726.97,694.94 L728.43,695.14 L729.89,695.34 L731.35,695.54 L732.82,695.74 L734.28,695.93 L735.74,696.12 L737.20,696.31 L738.66,696.49 L740.13,696.68 L741.59,696.86 L743.05,697.04 L744.51,697.22 L745.97,697.39 L747.44,697.56 L748.90,697.73 L750.36,697.90 L751.82,698.07 L753.28,698.23 L754.75,698.39 L756.21,698.55 L757.67,698.70 L759.13,698.86 L760.59,699.01 L762.06,699.16 L763.52,699.30 L764.98,699.45 L766.44,699.59 L767.90,699.73 L769.37,699.87 L770.83,700.00 L772.29,700.14 L773.75,700.27 L775.21,700.40 L776.68,700.53 L778.14,700.66 L779.60,700.78 L781.06,700.90 L782.52,701.03 L783.99,701.15 L785.45,701.26 L786.91,701.38 L788.37,701.50 L789.83,701.61 L791.30,701.72 L792.76,701.83 L794.22,701.94 L795.68,702.05 L797.14,702.15 L798.61,702.26 L800.07,702.36 L801.53,702.46 L802.99,702.56 L804.45,702.66 L805.92,702.76 L807.38,702.86 L808.84,702.96 L810.30,703.05 L811.76,703.15 L813.23,703.24 L814.69,703.33 L816.15,703.42 L817.61,703.51 L819.07,703.60 L820.54,703.69 L822.00,703.77 L823.46,703.86 L824.92,703.94 L826.38,704.02 L827.85,704.10 L829.31,704.18 L830.77,704.26 L832.23,704.34 L833.69,704.41 L835.16,704.49 L836.62,704.56 L838.08,704.63 L839.54,704.71 L841.00,704.78 L842.47,704.85 L843.93,704.92 L845.39,704.98 L846.85,705.05 L848.31,705.12 L849.78,705.18 L851.24,705.25 L852.70,705.31 L854.16,705.37 L855.62,705.44 L857.09,705.50 L858.55,705.56 L860.01,705.62 L861.47,705.68 L862.93,705.74 L864.40,705.79 L865.86,705.85 L867.32,705.91 L868.78,705.96 L870.24,706.02 L871.71,706.07 L873.17,706.13 L874.63,706.18 L876.09,706.24 L877.55,706.29 L879.02,706.34 L880.48,706.40 L881.94,706.45 L883.40,706.50 L884.86,706.55 L886.33,706.60 L887.79,706.65 L889.25,706.70 L890.71,706.75 L892.17,706.80 L893.64,706.85 L895.10,706.90 L896.56,706.95 L898.02,706.99 L899.48,707.04 L900.95,707.09 L902.41,707.13 L903.87,707.18 L905.33,707.22 L906.79,707.27 L908.26,707.31 L909.72,707.35 L911.18,707.40 L912.64,707.44 L914.10,707.48 L915.57,707.52 L917.03,707.56 L918.49,707.60 L919.95,707.64 L921.41,707.68 L922.88,707.71 L924.34,707.75 L925.80,707.79 L927.26,707.82 L928.72,707.86 L930.19,707.89 L931.65,707.93 L933.11,707.96 L934.57,707.99 L936.03,708.02 L937.50,708.05 L938.96,708.08 L940.42,708.11 L941.88,708.13 L943.34,708.16 L944.81,708.18 L946.27,708.21 L947.73,708.23 L949.19,708.25 L950.65,708.26 L952.12,708.28 L953.58,708.29 L955.04,708.30 L956.50,708.30 L957.96,708.30 L959.43,708.30 L960.89,708.30 L962.35,708.30" stroke="#008000" stroke-width="3.3" stroke-dasharray="25.570 13.340" stroke-dashoffset="-13.0"/>
<path d="M85.15,8.30 L86.61,11.57 L88.07,14.83 L89.54,18.09 L91.00,21.33 L92.46,24.58 L93.92,27.81 L95.38,31.04 L96.85,34.26 L98.31,37.47 L99.77,40.67 L101.23,43.87 L102.69,47.06 L104.16,50.25 L105.62,53.42 L107.08,56.59 L108.54,59.75 L110.00,62.91 L111.47,66.06 L112.93,69.20 L114.39,72.33 L115.85,75.46 L117.31,78.58 L118.78,81.69 L120.24,84.80 L121.70,87.89 L123.16,90.99 L124.62,94.07 L126.09,97.15 L127.55,100.21 L129.01,103.28 L130.47,106.33 L131.93,109.38 L133.40,112.43 L134.86,115.46 L136.32,118.50 L137.78,121.52 L139.24,124.55 L140.71,127.56 L142.17,130.57 L143.63,133.57 L145.09,136.57 L146.55,139.56 L148.02,142.54 L149.48,145.52 L150.94,148.49 L152.40,151.46 L153.86,154.42 L155.33,157.37 L156.79,160.31 L158.25,163.25 L159.71,166.18 L161.17,169.11 L162.64,172.02 L164.10,174.93 L165.56,177.84 L167.02,180.73 L168.48,183.62 L169.95,186.50 L171.41,189.38 L172.87,192.24 L174.33,195.10 L175.79,197.95 L177.26,200.80 L178.72,203.63 L180.18,206.46 L181.64,209.28 L183.10,212.09 L184.57,214.90 L186.03,217.69 L187.49,220.48 L188.95,223.26 L190.41,226.04 L191.88,228.81 L193.34,231.57 L194.80,234.33 L196.26,237.08 L197.72,239.83 L199.19,242.57 L200.65,245.30 L202.11,248.03 L203.57,250.75 L205.03,253.46 L206.50,256.17 L207.96,258.87 L209.42,261.56 L210.88,264.24 L212.34,266.91 L213.81,269.58 L215.27,272.24 L216.73,274.89 L218.19,277.53 L219.65,280.16 L221.12,282.78 L222.58,285.39 L224.04,288.00 L225.50,290.59 L226.96,293.18 L228.43,295.75 L229.89,298.31 L231.35,300.87 L232.81,303.41 L234.27,305.94 L235.74,308.46 L237.20,310.97 L238.66,313.47 L240.12,315.95 L241.58,318.43 L243.05,320.89 L244.51,323.34 L245.97,325.78 L247.43,328.20 L248.89,330.62 L250.36,333.02 L251.82,335.41 L253.28,337.78 L254.74,340.15 L256.20,342.50 L257.67,344.84 L259.13,347.18 L260.59,349.50 L262.05,351.80 L263.51,354.10 L264.98,356.39 L266.44,358.67 L267.90,360.93 L269.36,363.19 L270.82,365.44 L272.29,367.67 L273.75,369.90 L275.21,372.12 L276.67,374.33 L278.13,376.53 L279.60,378.72 L281.06,380.90 L282.52,383.07 L283.98,385.24 L285.44,387.40 L286.91,389.55 L288.37,391.69 L289.83,393.82 L291.29,395.94 L292.75,398.06 L294.22,400.17 L295.68,402.26 L297.14,404.35 L298.60,406.43 L300.06,408.49 L301.53,410.55 L302.99,412.60 L304.45,414.64 L305.91,416.67 L307.37,418.69 L308.84,420.70 L310.30,422.70 L311.76,424.69 L313.22,426.67 L314.68,428.64 L316.15,430.60 L317.61,432.56 L319.07,434.50 L320.53,436.43 L321.99,438.35 L323.46,440.27 L324.92,442.17 L326.38,444.06 L327.84,445.95 L329.30,447.82 L330.77,449.69 L332.23,451.54 L333.69,453.39 L335.15,455.22 L336.61,457.04 L338.08,458.84 L339.54,460.64 L341.00,462.42 L342.46,464.19 L343.92,465.94 L345.39,467.69 L346.85,469.43 L348.31,471.15 L349.77,472.87 L351.23,474.58 L352.70,476.28 L354.16,477.98 L355.62,479.66 L357.08,481.34 L358.54,483.02 L360.01,484.68 L361.47,486.35 L362.93,488.00 L364.39,489.66 L365.85,491.31 L367.32,492.96 L368.78,494.60 L370.24,496.24 L371.70,497.88 L373.16,499.51 L374.63,501.13 L376.09,502.75 L377.55,504.35 L379.01,505.95 L380.47,507.54 L381.94,509.12 L383.40,510.69 L384.86,512.25 L386.32,513.81 L387.78,515.35 L389.25,516.89 L390.71,518.43 L392.17,519.95 L393.63,521.46 L395.09,522.97 L396.56,524.47 L398.02,525.96 L399.48,527.44 L400.94,528.91 L402.40,530.38 L403.87,531.84 L405.33,533.29 L406.79,534.73 L408.25,536.16 L409.71,537.59 L411.18,539.01 L412.64,540.42 L414.10,541.82 L415.56,543.21 L417.02,544.60 L418.49,545.98 L419.95,547.35 L421.41,548.71 L422.87,550.06 L424.33,551.41 L425.80,552.74 L427.26,554.07 L428.72,555.39 L430.18,556.71 L431.64,558.01 L433.11,559.31 L434.57,560.59 L436.03,561.87 L437.49,563.15 L438.95,564.41 L440.42,565.66 L441.88,566.91 L443.34,568.15 L444.80,569.38 L446.26,570.61 L447.73,571.82 L449.19,573.03 L450.65,574.23 L452.11,575.42 L453.57,576.60 L455.04,577.78 L456.50,578.95 L457.96,580.11 L459.42,581.26 L460.88,582.41 L462.35,583.55 L463.81,584.68 L465.27,585.80 L466.73,586.92 L468.19,588.03 L469.66,589.13 L471.12,590.22 L472.58,591.31 L474.04,592.39 L475.50,593.46 L476.97,594.53 L478.43,595.58 L479.89,596.63 L481.35,597.68 L482.81,598.71 L484.28,599.74 L485.74,600.76 L487.20,601.77 L488.66,602.78 L490.12,603.78 L491.59,604.77 L493.05,605.76 L494.51,606.73 L495.97,607.70 L497.43,608.67 L498.90,609.63 L500.36,610.61 L501.82,611.61 L503.28,612.61 L504.74,613.61 L506.21,614.63 L507.67,615.64 L509.13,616.65 L510.59,617.66 L512.05,618.67 L513.52,619.67 L514.98,620.65 L516.44,621.63 L517.90,622.59 L519.36,623.53 L520.83,624.46 L522.29,625.36 L523.75,626.24 L525.21,627.10 L526.67,627.95 L528.14,628.80 L529.60,629.64 L531.06,630.47 L532.52,631.30 L533.98,632.11 L535.45,632.92 L536.91,633.72 L538.37,634.52 L539.83,635.31 L541.29,636.09 L542.76,636.86 L544.22,637.63 L545.68,638.39 L547.14,639.14 L548.60,639.88 L550.07,640.62 L551.53,641.36 L552.99,642.08 L554.45,642.80 L555.91,643.51 L557.38,644.22 L558.84,644.92 L560.30,645.62 L561.76,646.30 L563.22,646.98 L564.69,647.66 L566.15,648.33 L567.61,648.99 L569.07,649.65 L570.53,650.30 L572.00,650.95 L573.46,651.58 L574.92,652.22 L576.38,652.85 L577.84,653.47 L579.31,654.09 L580.77,654.70 L582.23,655.30 L583.69,655.90 L585.15,656.50 L586.62,657.09 L588.08,657.67 L589.54,658.25 L591.00,658.83 L592.46,659.40 L593.93,659.96 L595.39,660.52 L596.85,661.07 L598.31,661.62 L599.77,662.16 L601.24,662.70 L602.70,663.23 L604.16,663.76 L605.62,664.28 L607.08,664.80 L608.55,665.31 L610.01,665.81 L611.47,666.32 L612.93,666.81 L614.39,667.30 L615.86,667.78 L617.32,668.26 L618.78,668.74 L620.24,669.20 L621.70,669.67 L623.17,670.12 L624.63,670.58 L626.09,671.02 L627.55,671.46 L629.01,671.90 L630.48,672.34 L631.94,672.76 L633.40,673.19 L634.86,673.61 L636.32,674.03 L637.79,674.44 L639.25,674.85 L640.71,675.25 L642.17,675.66 L643.63,676.05 L645.10,676.45 L646.56,676.84 L648.02,677.22 L649.48,677.60 L650.94,677.98 L652.41,678.36 L653.87,678.73 L655.33,679.10 L656.79,679.46 L658.25,679.82 L659.72,680.18 L661.18,680.53 L662.64,680.88 L664.10,681.23 L665.56,681.57 L667.03,681.92 L668.49,682.25 L669.95,682.59 L671.41,682.92 L672.87,683.24 L674.34,683.57 L675.80,683.89 L677.26,684.20 L678.72,684.52 L680.18,684.83 L681.65,685.13 L683.11,685.43 L684.57,685.73 L686.03,686.03 L687.49,686.32 L688.96,686.61 L690.42,686.90 L691.88,687.18 L693.34,687.46 L694.80,687.73 L696.27,688.01 L697.73,688.28 L699.19,688.54 L700.65,688.81 L702.11,689.07 L703.58,689.33 L705.04,689.58 L706.50,689.83 L707.96,690.08 L709.42,690.33 L710.89,690.57 L712.35,690.81 L713.81,691.05 L715.27,691.29 L716.73,691.52 L718.20,691.75 L719.66,691.98 L721.12,692.20 L722.58,692.43 L724.04,692.65 L725.51,692.86 L726.97,693.08 L728.43,693.29 L729.89,693.50 L731.35,693.71 L732.82,693.91 L734.28,694.12 L735.74,694.32 L737.20,694.52 L738.66,694.71 L740.13,694.91 L741.59,695.10 L743.05,695.29 L744.51,695.48 L745.97,695.66 L747.44,695.85 L748.90,696.03 L750.36,696.21 L751.82,696.38 L753.28,696.56 L754.75,696.73 L756.21,696.90 L757.67,697.07 L759.13,697.23 L760.59,697.40 L762.06,697.56 L763.52,697.72 L764.98,697.87 L766.44,698.03 L767.90,698.18 L769.37,698.33 L770.83,698.48 L772.29,698.63 L773.75,698.78 L775.21,698.92 L776.68,699.07 L778.14,699.21 L779.60,699.35 L781.06,699.48 L782.52,699.62 L783.99,699.75 L785.45,699.89 L786.91,700.02 L788.37,700.15 L789.83,700.27 L791.30,700.40 L792.76,700.52 L794.22,700.65 L795.68,700.77 L797.14,700.89 L798.61,701.01 L800.07,701.13 L801.53,701.24 L802.99,701.36 L804.45,701.47 L805.92,701.58 L807.38,701.69 L808.84,701.80 L810.30,701.91 L811.76,702.02 L813.23,702.13 L814.69,702.23 L816.15,702.34 L817.61,702.44 L819.07,702.54 L820.54,702.64 L822.00,702.74 L823.46,702.84 L824.92,702.93 L826.38,703.03 L827.85,703.12 L829.31,703.22 L830.77,703.31 L832.23,703.40 L833.69,703.49 L835.16,703.58 L836.62,703.67 L838.08,703.75 L839.54,703.84 L841.00,703.92 L842.47,704.01 L843.93,704.09 L845.39,704.17 L846.85,704.25 L848.31,704.33 L849.78,704.41 L851.24,704.49 L852.70,704.57 L854.16,704.64 L855.62,704.72 L857.09,704.79 L858.55,704.87 L860.01,704.94 L861.47,705.01 L862.93,705.08 L864.40,705.16 L865.86,705.23 L867.32,705.30 L868.78,705.36 L870.24,705.43 L871.71,705.50 L873.17,705.57 L874.63,705.63 L876.09,705.70 L877.55,705.76 L879.02,705.83 L880.48,705.89 L881.94,705.96 L883.40,706.02 L884.86,706.08 L886.33,706.14 L887.79,706.20 L889.25,706.27 L890.71,706.33 L892.17,706.39 L893.64,706.44 L895.10,706.50 L896.56,706.56 L898.02,706.62 L899.48,706.68 L900.95,706.73 L902.41,706.79 L903.87,706.84 L905.33,706.90 L906.79,706.95 L908.26,707.00 L909.72,707.06 L911.18,707.11 L912.64,707.16 L914.10,707.21 L915.57,707.26 L917.03,707.31 L918.49,707.36 L919.95,707.41 L921.41,707.45 L922.88,707.50 L924.34,707.55 L925.80,707.59 L927.26,707.64 L928.72,707.68 L930.19,707.72 L931.65,707.77 L933.11,707.81 L934.57,707.85 L936.03,707.89 L937.50,707.92 L938.96,707.96 L940.42,708.00 L941.88,708.03 L943.34,708.07 L944.81,708.10 L946.27,708.13 L947.73,708.16 L949.19,708.18 L950.65,708.21 L952.12,708.23 L953.58,708.25 L955.04,708.27 L956.50,708.28 L957.96,708.29 L959.43,708.30 L960.89,708.30 L962.35,708.30" stroke="#008000" stroke-width="3.3" stroke-dasharray="25.570 13.340" stroke-dashoffset="-13.2"/>
<path d="M85.15,8.30 L86.61,11.57 L88.07,14.82 L89.54,18.07 L91.00,21.32 L92.46,24.55 L93.92,27.78 L95.38,31.01 L96.85,34.22 L98.31,37.43 L99.77,40.63 L101.23,43.83 L102.69,47.01 L104.16,50.19 L105.62,53.36 L107.08,56.53 L108.54,59.69 L110.00,62.84 L111.47,65.98 L112.93,69.12 L114.39,72.25 L115.85,75.37 L117.31,78.49 L118.78,81.59 L120.24,84.70 L121.70,87.79 L123.16,90.88 L124.62,93.95 L126.09,97.03 L127.55,100.09 L129.01,103.15 L130.47,106.20 L131.93,109.25 L133.40,112.29 L134.86,115.32 L136.32,118.35 L137.78,121.37 L139.24,124.39 L140.71,127.40 L142.17,130.40 L143.63,133.40 L145.09,136.39 L146.55,139.38 L148.02,142.36 L149.48,145.33 L150.94,148.30 L152.40,151.26 L153.86,154.21 L155.33,157.16 L156.79,160.10 L158.25,163.03 L159.71,165.96 L161.17,168.88 L162.64,171.79 L164.10,174.70 L165.56,177.59 L167.02,180.49 L168.48,183.37 L169.95,186.25 L171.41,189.12 L172.87,191.98 L174.33,194.83 L175.79,197.68 L177.26,200.52 L178.72,203.35 L180.18,206.17 L181.64,208.98 L183.10,211.79 L184.57,214.59 L186.03,217.38 L187.49,220.16 L188.95,222.94 L190.41,225.71 L191.88,228.48 L193.34,231.24 L194.80,233.99 L196.26,236.74 L197.72,239.48 L199.19,242.21 L200.65,244.94 L202.11,247.66 L203.57,250.38 L205.03,253.09 L206.50,255.79 L207.96,258.48 L209.42,261.16 L210.88,263.84 L212.34,266.51 L213.81,269.17 L215.27,271.82 L216.73,274.47 L218.19,277.10 L219.65,279.73 L221.12,282.35 L222.58,284.95 L224.04,287.55 L225.50,290.14 L226.96,292.72 L228.43,295.29 L229.89,297.84 L231.35,300.39 L232.81,302.93 L234.27,305.45 L235.74,307.97 L237.20,310.47 L238.66,312.96 L240.12,315.44 L241.58,317.91 L243.05,320.37 L244.51,322.81 L245.97,325.25 L247.43,327.67 L248.89,330.07 L250.36,332.47 L251.82,334.85 L253.28,337.22 L254.74,339.58 L256.20,341.93 L257.67,344.27 L259.13,346.59 L260.59,348.91 L262.05,351.21 L263.51,353.50 L264.98,355.78 L266.44,358.06 L267.90,360.32 L269.36,362.57 L270.82,364.81 L272.29,367.04 L273.75,369.26 L275.21,371.48 L276.67,373.68 L278.13,375.87 L279.60,378.06 L281.06,380.24 L282.52,382.41 L283.98,384.57 L285.44,386.72 L286.91,388.86 L288.37,391.00 L289.83,393.13 L291.29,395.25 L292.75,397.36 L294.22,399.46 L295.68,401.55 L297.14,403.63 L298.60,405.70 L300.06,407.76 L301.53,409.82 L302.99,411.86 L304.45,413.89 L305.91,415.92 L307.37,417.93 L308.84,419.93 L310.30,421.93 L311.76,423.91 L313.22,425.89 L314.68,427.85 L316.15,429.81 L317.61,431.75 L319.07,433.69 L320.53,435.61 L321.99,437.53 L323.46,439.43 L324.92,441.33 L326.38,443.22 L327.84,445.09 L329.30,446.96 L330.77,448.81 L332.23,450.66 L333.69,452.50 L335.15,454.32 L336.61,456.14 L338.08,457.93 L339.54,459.72 L341.00,461.49 L342.46,463.25 L343.92,465.00 L345.39,466.74 L346.85,468.47 L348.31,470.19 L349.77,471.90 L351.23,473.60 L352.70,475.29 L354.16,476.98 L355.62,478.66 L357.08,480.33 L358.54,481.99 L360.01,483.65 L361.47,485.31 L362.93,486.96 L364.39,488.60 L365.85,490.24 L367.32,491.88 L368.78,493.52 L370.24,495.16 L371.70,496.79 L373.16,498.41 L374.63,500.02 L376.09,501.63 L377.55,503.22 L379.01,504.81 L380.47,506.39 L381.94,507.97 L383.40,509.53 L384.86,511.09 L386.32,512.63 L387.78,514.17 L389.25,515.70 L390.71,517.23 L392.17,518.74 L393.63,520.25 L395.09,521.75 L396.56,523.24 L398.02,524.72 L399.48,526.20 L400.94,527.66 L402.40,529.12 L403.87,530.57 L405.33,532.01 L406.79,533.44 L408.25,534.87 L409.71,536.29 L411.18,537.70 L412.64,539.10 L414.10,540.49 L415.56,541.88 L417.02,543.26 L418.49,544.63 L419.95,545.99 L421.41,547.34 L422.87,548.69 L424.33,550.03 L425.80,551.35 L427.26,552.68 L428.72,553.99 L430.18,555.29 L431.64,556.59 L433.11,557.88 L434.57,559.16 L436.03,560.43 L437.49,561.69 L438.95,562.95 L440.42,564.19 L441.88,565.43 L443.34,566.66 L444.80,567.88 L446.26,569.10 L447.73,570.31 L449.19,571.51 L450.65,572.70 L452.11,573.88 L453.57,575.06 L455.04,576.22 L456.50,577.38 L457.96,578.54 L459.42,579.68 L460.88,580.82 L462.35,581.95 L463.81,583.07 L465.27,584.18 L466.73,585.29 L468.19,586.39 L469.66,587.48 L471.12,588.56 L472.58,589.64 L474.04,590.71 L475.50,591.77 L476.97,592.83 L478.43,593.87 L479.89,594.91 L481.35,595.95 L482.81,596.97 L484.28,597.99 L485.74,599.00 L487.20,600.00 L488.66,601.00 L490.12,601.99 L491.59,602.97 L493.05,603.95 L494.51,604.92 L495.97,605.88 L497.43,606.83 L498.90,607.79 L500.36,608.76 L501.82,609.74 L503.28,610.74 L504.74,611.74 L506.21,612.74 L507.67,613.75 L509.13,614.75 L510.59,615.76 L512.05,616.76 L513.52,617.75 L514.98,618.73 L516.44,619.70 L517.90,620.66 L519.36,621.60 L520.83,622.52 L522.29,623.42 L523.75,624.29 L525.21,625.15 L526.67,626.00 L528.14,626.84 L529.60,627.68 L531.06,628.51 L532.52,629.33 L533.98,630.14 L535.45,630.95 L536.91,631.75 L538.37,632.54 L539.83,633.33 L541.29,634.11 L542.76,634.88 L544.22,635.64 L545.68,636.40 L547.14,637.15 L548.60,637.89 L550.07,638.63 L551.53,639.36 L552.99,640.08 L554.45,640.80 L555.91,641.51 L557.38,642.21 L558.84,642.91 L560.30,643.60 L561.76,644.29 L563.22,644.97 L564.69,645.64 L566.15,646.31 L567.61,646.97 L569.07,647.62 L570.53,648.27 L572.00,648.91 L573.46,649.55 L574.92,650.18 L576.38,650.80 L577.84,651.42 L579.31,652.04 L580.77,652.65 L582.23,653.25 L583.69,653.85 L585.15,654.44 L586.62,655.03 L588.08,655.61 L589.54,656.19 L591.00,656.76 L592.46,657.32 L593.93,657.88 L595.39,658.44 L596.85,658.99 L598.31,659.53 L599.77,660.07 L601.24,660.60 L602.70,661.13 L604.16,661.65 L605.62,662.17 L607.08,662.68 L608.55,663.19 L610.01,663.69 L611.47,664.19 L612.93,664.68 L614.39,665.17 L615.86,665.65 L617.32,666.12 L618.78,666.59 L620.24,667.06 L621.70,667.51 L623.17,667.97 L624.63,668.42 L626.09,668.86 L627.55,669.30 L629.01,669.73 L630.48,670.16 L631.94,670.59 L633.40,671.01 L634.86,671.43 L636.32,671.85 L637.79,672.26 L639.25,672.67 L640.71,673.07 L642.17,673.47 L643.63,673.87 L645.10,674.26 L646.56,674.65 L648.02,675.03 L649.48,675.41 L650.94,675.79 L652.41,676.17 L653.87,676.54 L655.33,676.91 L656.79,677.27 L658.25,677.63 L659.72,677.99 L661.18,678.35 L662.64,678.70 L664.10,679.05 L665.56,679.40 L667.03,679.74 L668.49,680.08 L669.95,680.42 L671.41,680.75 L672.87,681.08 L674.34,681.41 L675.80,681.73 L677.26,682.05 L678.72,682.37 L680.18,682.69 L681.65,683.00 L683.11,683.31 L684.57,683.61 L686.03,683.91 L687.49,684.21 L688.96,684.51 L690.42,684.80 L691.88,685.09 L693.34,685.38 L694.80,685.66 L696.27,685.94 L697.73,686.22 L699.19,686.50 L700.65,686.77 L702.11,687.04 L703.58,687.30 L705.04,687.57 L706.50,687.83 L707.96,688.09 L709.42,688.34 L710.89,688.60 L712.35,688.85 L713.81,689.10 L715.27,689.34 L716.73,689.58 L718.20,689.82 L719.66,690.06 L721.12,690.30 L722.58,690.53 L724.04,690.76 L725.51,690.99 L726.97,691.21 L728.43,691.44 L729.89,691.66 L731.35,691.87 L732.82,692.09 L734.28,692.30 L735.74,692.52 L737.20,692.73 L738.66,692.93 L740.13,693.14 L741.59,693.34 L743.05,693.54 L744.51,693.74 L745.97,693.93 L747.44,694.13 L748.90,694.32 L750.36,694.51 L751.82,694.70 L753.28,694.88 L754.75,695.07 L756.21,695.25 L757.67,695.43 L759.13,695.61 L760.59,695.78 L762.06,695.96 L763.52,696.13 L764.98,696.30 L766.44,696.47 L767.90,696.64 L769.37,696.80 L770.83,696.97 L772.29,697.13 L773.75,697.29 L775.21,697.45 L776.68,697.60 L778.14,697.76 L779.60,697.91 L781.06,698.06 L782.52,698.21 L783.99,698.36 L785.45,698.51 L786.91,698.65 L788.37,698.80 L789.83,698.94 L791.30,699.08 L792.76,699.22 L794.22,699.35 L795.68,699.49 L797.14,699.63 L798.61,699.76 L800.07,699.89 L801.53,700.02 L802.99,700.15 L804.45,700.28 L805.92,700.40 L807.38,700.53 L808.84,700.65 L810.30,700.77 L811.76,700.90 L813.23,701.02 L814.69,701.13 L816.15,701.25 L817.61,701.37 L819.07,701.48 L820.54,701.60 L822.00,701.71 L823.46,701.82 L824.92,701.93 L826.38,702.04 L827.85,702.15 L829.31,702.25 L830.77,702.36 L832.23,702.46 L833.69,702.57 L835.16,702.67 L836.62,702.77 L838.08,702.87 L839.54,702.97 L841.00,703.07 L842.47,703.17 L843.93,703.26 L845.39,703.36 L846.85,703.45 L848.31,703.55 L849.78,703.64 L851.24,703.73 L852.70,703.82 L854.16,703.91 L855.62,704.00 L857.09,704.09 L858.55,704.18 L860.01,704.26 L861.47,704.35 L862.93,704.43 L864.40,704.52 L865.86,704.60 L867.32,704.68 L868.78,704.76 L870.24,704.84 L871.71,704.92 L873.17,705.00 L874.63,705.08 L876.09,705.16 L877.55,705.24 L879.02,705.31 L880.48,705.39 L881.94,705.46 L883.40,705.54 L884.86,705.61 L886.33,705.68 L887.79,705.76 L889.25,705.83 L890.71,705.90 L892.17,705.97 L893.64,706.04 L895.10,706.11 L896.56,706.18 L898.02,706.24 L899.48,706.31 L900.95,706.38 L902.41,706.44 L903.87,706.51 L905.33,706.57 L906.79,706.63 L908.26,706.70 L909.72,706.76 L911.18,706.82 L912.64,706.88 L914.10,706.94 L915.57,707.00 L917.03,707.06 L918.49,707.12 L919.95,707.18 L921.41,707.23 L922.88,707.29 L924.34,707.34 L925.80,707.40 L927.26,707.45 L928.72,707.50 L930.19,707.55 L931.65,707.61 L933.11,707.66 L934.57,707.70 L936.03,707.75 L937.50,707.80 L938.96,707.84 L940.42,707.89 L941.88,707.93 L943.34,707.97 L944.81,708.01 L946.27,708.05 L947.73,708.09 L949.19,708.12 L950.65,708.15 L952.12,708.18 L953.58,708.21 L955.04,708.23 L956.50,708.25 L957.96,708.27 L959.43,708.29 L960.89,708.30 L962.35,708.30" stroke="#008000" stroke-width="3.3" stroke-dasharray="25.570 13.340" stroke-dashoffset="-13.5"/>
<path d="M85.15,8.30 L86.61,11.56 L88.07,14.82 L89.54,18.07 L91.00,21.31 L92.46,24.54 L93.92,27.77 L95.38,30.99 L96.85,34.20 L98.31,37.41 L99.77,40.60 L101.23,43.80 L102.69,46.98 L104.16,50.16 L105.62,53.33 L107.08,56.49 L108.54,59.64 L110.00,62.79 L111.47,65.93 L112.93,69.07 L114.39,72.19 L115.85,75.31 L117.31,78.43 L118.78,81.53 L120.24,84.63 L121.70,87.72 L123.16,90.80 L124.62,93.88 L126.09,96.95 L127.55,100.01 L129.01,103.06 L130.47,106.11 L131.93,109.15 L133.40,112.19 L134.86,115.22 L136.32,118.25 L137.78,121.27 L139.24,124.28 L140.71,127.29 L142.17,130.29 L143.63,133.28 L145.09,136.27 L146.55,139.26 L148.02,142.23 L149.48,145.20 L150.94,148.17 L152.40,151.12 L153.86,154.07 L155.33,157.02 L156.79,159.96 L158.25,162.89 L159.71,165.81 L161.17,168.73 L162.64,171.64 L164.10,174.54 L165.56,177.43 L167.02,180.32 L168.48,183.20 L169.95,186.08 L171.41,188.94 L172.87,191.80 L174.33,194.65 L175.79,197.49 L177.26,200.33 L178.72,203.16 L180.18,205.98 L181.64,208.79 L183.10,211.59 L184.57,214.39 L186.03,217.17 L187.49,219.95 L188.95,222.73 L190.41,225.49 L191.88,228.26 L193.34,231.01 L194.80,233.76 L196.26,236.51 L197.72,239.24 L199.19,241.98 L200.65,244.70 L202.11,247.42 L203.57,250.13 L205.03,252.83 L206.50,255.53 L207.96,258.22 L209.42,260.90 L210.88,263.58 L212.34,266.24 L213.81,268.90 L215.27,271.55 L216.73,274.19 L218.19,276.82 L219.65,279.44 L221.12,282.05 L222.58,284.66 L224.04,287.25 L225.50,289.84 L226.96,292.41 L228.43,294.98 L229.89,297.53 L231.35,300.07 L232.81,302.61 L234.27,305.13 L235.74,307.64 L237.20,310.14 L238.66,312.63 L240.12,315.10 L241.58,317.57 L243.05,320.02 L244.51,322.46 L245.97,324.89 L247.43,327.31 L248.89,329.71 L250.36,332.10 L251.82,334.48 L253.28,336.85 L254.74,339.21 L256.20,341.55 L257.67,343.88 L259.13,346.21 L260.59,348.52 L262.05,350.82 L263.51,353.10 L264.98,355.38 L266.44,357.65 L267.90,359.91 L269.36,362.16 L270.82,364.39 L272.29,366.62 L273.75,368.84 L275.21,371.05 L276.67,373.25 L278.13,375.44 L279.60,377.62 L281.06,379.80 L282.52,381.96 L283.98,384.12 L285.44,386.27 L286.91,388.41 L288.37,390.54 L289.83,392.66 L291.29,394.78 L292.75,396.89 L294.22,398.99 L295.68,401.07 L297.14,403.15 L298.60,405.22 L300.06,407.27 L301.53,409.32 L302.99,411.36 L304.45,413.39 L305.91,415.40 L307.37,417.41 L308.84,419.41 L310.30,421.40 L311.76,423.37 L313.22,425.34 L314.68,427.30 L316.15,429.25 L317.61,431.18 L319.07,433.11 L320.53,435.03 L321.99,436.94 L323.46,438.83 L324.92,440.72 L326.38,442.60 L327.84,444.47 L329.30,446.33 L330.77,448.17 L332.23,450.01 L333.69,451.84 L335.15,453.65 L336.61,455.46 L338.08,457.24 L339.54,459.02 L341.00,460.78 L342.46,462.53 L343.92,464.27 L345.39,466.00 L346.85,467.72 L348.31,469.43 L349.77,471.13 L351.23,472.82 L352.70,474.50 L354.16,476.18 L355.62,477.84 L357.08,479.51 L358.54,481.16 L360.01,482.81 L361.47,484.45 L362.93,486.09 L364.39,487.73 L365.85,489.36 L367.32,490.99 L368.78,492.61 L370.24,494.24 L371.70,495.86 L373.16,497.47 L374.63,499.07 L376.09,500.67 L377.55,502.26 L379.01,503.84 L380.47,505.41 L381.94,506.97 L383.40,508.52 L384.86,510.07 L386.32,511.61 L387.78,513.14 L389.25,514.66 L390.71,516.17 L392.17,517.68 L393.63,519.17 L395.09,520.66 L396.56,522.14 L398.02,523.61 L399.48,525.07 L400.94,526.53 L402.40,527.98 L403.87,529.42 L405.33,530.85 L406.79,532.27 L408.25,533.68 L409.71,535.09 L411.18,536.49 L412.64,537.88 L414.10,539.26 L415.56,540.63 L417.02,542.00 L418.49,543.36 L419.95,544.71 L421.41,546.05 L422.87,547.39 L424.33,548.71 L425.80,550.03 L427.26,551.34 L428.72,552.64 L430.18,553.93 L431.64,555.22 L433.11,556.50 L434.57,557.76 L436.03,559.02 L437.49,560.28 L438.95,561.52 L440.42,562.76 L441.88,563.98 L443.34,565.20 L444.80,566.41 L446.26,567.62 L447.73,568.81 L449.19,570.00 L450.65,571.18 L452.11,572.36 L453.57,573.52 L455.04,574.68 L456.50,575.83 L457.96,576.97 L459.42,578.10 L460.88,579.23 L462.35,580.35 L463.81,581.46 L465.27,582.56 L466.73,583.66 L468.19,584.75 L469.66,585.83 L471.12,586.90 L472.58,587.97 L474.04,589.03 L475.50,590.08 L476.97,591.12 L478.43,592.16 L479.89,593.18 L481.35,594.20 L482.81,595.22 L484.28,596.23 L485.74,597.22 L487.20,598.22 L488.66,599.20 L490.12,600.18 L491.59,601.15 L493.05,602.12 L494.51,603.07 L495.97,604.02 L497.43,604.97 L498.90,605.91 L500.36,606.88 L501.82,607.85 L503.28,608.83 L504.74,609.82 L506.21,610.82 L507.67,611.82 L509.13,612.82 L510.59,613.81 L512.05,614.80 L513.52,615.79 L514.98,616.76 L516.44,617.73 L517.90,618.68 L519.36,619.61 L520.83,620.53 L522.29,621.42 L523.75,622.30 L525.21,623.15 L526.67,624.00 L528.14,624.84 L529.60,625.67 L531.06,626.50 L532.52,627.32 L533.98,628.13 L535.45,628.93 L536.91,629.73 L538.37,630.52 L539.83,631.30 L541.29,632.08 L542.76,632.85 L544.22,633.61 L545.68,634.36 L547.14,635.11 L548.60,635.85 L550.07,636.59 L551.53,637.32 L552.99,638.04 L554.45,638.76 L555.91,639.46 L557.38,640.17 L558.84,640.86 L560.30,641.55 L561.76,642.24 L563.22,642.92 L564.69,643.59 L566.15,644.25 L567.61,644.91 L569.07,645.57 L570.53,646.22 L572.00,646.86 L573.46,647.49 L574.92,648.13 L576.38,648.75 L577.84,649.37 L579.31,649.99 L580.77,650.59 L582.23,651.20 L583.69,651.80 L585.15,652.39 L586.62,652.98 L588.08,653.56 L589.54,654.14 L591.00,654.71 L592.46,655.28 L593.93,655.84 L595.39,656.40 L596.85,656.95 L598.31,657.50 L599.77,658.04 L601.24,658.57 L602.70,659.11 L604.16,659.63 L605.62,660.15 L607.08,660.67 L608.55,661.18 L610.01,661.68 L611.47,662.19 L612.93,662.68 L614.39,663.17 L615.86,663.66 L617.32,664.13 L618.78,664.61 L620.24,665.08 L621.70,665.54 L623.17,666.00 L624.63,666.46 L626.09,666.90 L627.55,667.35 L629.01,667.79 L630.48,668.22 L631.94,668.65 L633.40,669.08 L634.86,669.51 L636.32,669.93 L637.79,670.34 L639.25,670.75 L640.71,671.16 L642.17,671.57 L643.63,671.97 L645.10,672.37 L646.56,672.76 L648.02,673.15 L649.48,673.54 L650.94,673.92 L652.41,674.30 L653.87,674.68 L655.33,675.05 L656.79,675.42 L658.25,675.78 L659.72,676.15 L661.18,676.51 L662.64,676.86 L664.10,677.21 L665.56,677.56 L667.03,677.91 L668.49,678.25 L669.95,678.59 L671.41,678.93 L672.87,679.27 L674.34,679.60 L675.80,679.92 L677.26,680.25 L678.72,680.57 L680.18,680.89 L681.65,681.21 L683.11,681.52 L684.57,681.83 L686.03,682.14 L687.49,682.44 L688.96,682.74 L690.42,683.04 L691.88,683.34 L693.34,683.63 L694.80,683.92 L696.27,684.21 L697.73,684.49 L699.19,684.78 L700.65,685.06 L702.11,685.33 L703.58,685.61 L705.04,685.88 L706.50,686.15 L707.96,686.41 L709.42,686.68 L710.89,686.94 L712.35,687.20 L713.81,687.45 L715.27,687.71 L716.73,687.96 L718.20,688.21 L719.66,688.45 L721.12,688.70 L722.58,688.94 L724.04,689.18 L725.51,689.41 L726.97,689.65 L728.43,689.88 L729.89,690.11 L731.35,690.33 L732.82,690.56 L734.28,690.78 L735.74,691.00 L737.20,691.22 L738.66,691.44 L740.13,691.65 L741.59,691.86 L743.05,692.07 L744.51,692.28 L745.97,692.48 L747.44,692.69 L748.90,692.89 L750.36,693.09 L751.82,693.28 L753.28,693.48 L754.75,693.67 L756.21,693.87 L757.67,694.06 L759.13,694.24 L760.59,694.43 L762.06,694.62 L763.52,694.80 L764.98,694.98 L766.44,695.16 L767.90,695.34 L769.37,695.52 L770.83,695.69 L772.29,695.86 L773.75,696.04 L775.21,696.21 L776.68,696.37 L778.14,696.54 L779.60,696.70 L781.06,696.87 L782.52,697.03 L783.99,697.19 L785.45,697.35 L786.91,697.51 L788.37,697.66 L789.83,697.82 L791.30,697.97 L792.76,698.12 L794.22,698.27 L795.68,698.42 L797.14,698.56 L798.61,698.71 L800.07,698.85 L801.53,698.99 L802.99,699.14 L804.45,699.27 L805.92,699.41 L807.38,699.55 L808.84,699.68 L810.30,699.82 L811.76,699.95 L813.23,700.08 L814.69,700.21 L816.15,700.34 L817.61,700.47 L819.07,700.59 L820.54,700.72 L822.00,700.84 L823.46,700.96 L824.92,701.09 L826.38,701.21 L827.85,701.33 L829.31,701.44 L830.77,701.56 L832.23,701.68 L833.69,701.79 L835.16,701.91 L836.62,702.02 L838.08,702.13 L839.54,702.24 L841.00,702.35 L842.47,702.46 L843.93,702.57 L845.39,702.68 L846.85,702.78 L848.31,702.89 L849.78,702.99 L851.24,703.09 L852.70,703.20 L854.16,703.30 L855.62,703.40 L857.09,703.50 L858.55,703.60 L860.01,703.69 L861.47,703.79 L862.93,703.89 L864.40,703.98 L865.86,704.07 L867.32,704.17 L868.78,704.26 L870.24,704.35 L871.71,704.44 L873.17,704.53 L874.63,704.62 L876.09,704.71 L877.55,704.79 L879.02,704.88 L880.48,704.97 L881.94,705.05 L883.40,705.13 L884.86,705.22 L886.33,705.30 L887.79,705.38 L889.25,705.46 L890.71,705.54 L892.17,705.62 L893.64,705.70 L895.10,705.77 L896.56,705.85 L898.02,705.93 L899.48,706.00 L900.95,706.08 L902.41,706.15 L903.87,706.22 L905.33,706.30 L906.79,706.37 L908.26,706.44 L909.72,706.51 L911.18,706.58 L912.64,706.65 L914.10,706.72 L915.57,706.78 L917.03,706.85 L918.49,706.92 L919.95,706.98 L921.41,707.05 L922.88,707.11 L924.34,707.17 L925.80,707.23 L927.26,707.29 L928.72,707.35 L930.19,707.41 L931.65,707.47 L933.11,707.53 L934.57,707.58 L936.03,707.64 L937.50,707.69 L938.96,707.74 L940.42,707.79 L941.88,707.84 L943.34,707.89 L944.81,707.94 L946.27,707.98 L947.73,708.03 L949.19,708.07 L950.65,708.10 L952.12,708.14 L953.58,708.17 L955.04,708.20 L956.50,708.23 L957.96,708.26 L959.43,708.28 L960.89,708.29 L962.35,708.30" stroke="#008000" stroke-width="3.3" stroke-dasharray="25.570 13.340" stroke-dashoffset="-13.8"/>
<path d="M85.15,8.30 L86.61,11.56 L88.07,14.81 L89.54,18.06 L91.00,21.30 L92.46,24.53 L93.92,27.75 L95.38,30.97 L96.85,34.18 L98.31,37.38 L99.77,40.58 L101.23,43.77 L102.69,46.95 L104.16,50.12 L105.62,53.29 L107.08,56.45 L108.54,59.60 L110.00,62.74 L111.47,65.88 L112.93,69.01 L114.39,72.14 L115.85,75.25 L117.31,78.36 L118.78,81.47 L120.24,84.56 L121.70,87.65 L123.16,90.73 L124.62,93.80 L126.09,96.87 L127.55,99.93 L129.01,102.98 L130.47,106.02 L131.93,109.06 L133.40,112.10 L134.86,115.13 L136.32,118.15 L137.78,121.16 L139.24,124.17 L140.71,127.18 L142.17,130.18 L143.63,133.17 L145.09,136.16 L146.55,139.14 L148.02,142.11 L149.48,145.08 L150.94,148.04 L152.40,150.99 L153.86,153.94 L155.33,156.88 L156.79,159.81 L158.25,162.74 L159.71,165.66 L161.17,168.57 L162.64,171.48 L164.10,174.38 L165.56,177.27 L167.02,180.16 L168.48,183.03 L169.95,185.90 L171.41,188.77 L172.87,191.62 L174.33,194.47 L175.79,197.31 L177.26,200.14 L178.72,202.97 L180.18,205.78 L181.64,208.59 L183.10,211.39 L184.57,214.18 L186.03,216.97 L187.49,219.74 L188.95,222.51 L190.41,225.28 L191.88,228.04 L193.34,230.79 L194.80,233.54 L196.26,236.28 L197.72,239.01 L199.19,241.74 L200.65,244.46 L202.11,247.18 L203.57,249.88 L205.03,252.58 L206.50,255.28 L207.96,257.96 L209.42,260.64 L210.88,263.31 L212.34,265.97 L213.81,268.63 L215.27,271.27 L216.73,273.91 L218.19,276.53 L219.65,279.15 L221.12,281.76 L222.58,284.36 L224.04,286.95 L225.50,289.53 L226.96,292.11 L228.43,294.67 L229.89,297.22 L231.35,299.76 L232.81,302.29 L234.27,304.80 L235.74,307.31 L237.20,309.81 L238.66,312.29 L240.12,314.76 L241.58,317.23 L243.05,319.68 L244.51,322.11 L245.97,324.54 L247.43,326.95 L248.89,329.35 L250.36,331.74 L251.82,334.11 L253.28,336.48 L254.74,338.83 L256.20,341.17 L257.67,343.50 L259.13,345.82 L260.59,348.12 L262.05,350.42 L263.51,352.70 L264.98,354.98 L266.44,357.24 L267.90,359.50 L269.36,361.74 L270.82,363.98 L272.29,366.20 L273.75,368.42 L275.21,370.62 L276.67,372.82 L278.13,375.00 L279.60,377.18 L281.06,379.35 L282.52,381.52 L283.98,383.67 L285.44,385.81 L286.91,387.95 L288.37,390.08 L289.83,392.20 L291.29,394.32 L292.75,396.42 L294.22,398.51 L295.68,400.60 L297.14,402.67 L298.60,404.73 L300.06,406.78 L301.53,408.83 L302.99,410.86 L304.45,412.88 L305.91,414.89 L307.37,416.89 L308.84,418.88 L310.30,420.86 L311.76,422.84 L313.22,424.80 L314.68,426.75 L316.15,428.69 L317.61,430.62 L319.07,432.54 L320.53,434.45 L321.99,436.35 L323.46,438.24 L324.92,440.12 L326.38,441.98 L327.84,443.84 L329.30,445.69 L330.77,447.53 L332.23,449.36 L333.69,451.18 L335.15,452.98 L336.61,454.78 L338.08,456.55 L339.54,458.32 L341.00,460.07 L342.46,461.81 L343.92,463.54 L345.39,465.26 L346.85,466.97 L348.31,468.67 L349.77,470.36 L351.23,472.04 L352.70,473.71 L354.16,475.38 L355.62,477.03 L357.08,478.68 L358.54,480.33 L360.01,481.97 L361.47,483.60 L362.93,485.23 L364.39,486.85 L365.85,488.47 L367.32,490.09 L368.78,491.71 L370.24,493.32 L371.70,494.93 L373.16,496.53 L374.63,498.13 L376.09,499.71 L377.55,501.29 L379.01,502.86 L380.47,504.42 L381.94,505.97 L383.40,507.52 L384.86,509.05 L386.32,510.58 L387.78,512.10 L389.25,513.61 L390.71,515.11 L392.17,516.61 L393.63,518.09 L395.09,519.57 L396.56,521.04 L398.02,522.50 L399.48,523.95 L400.94,525.40 L402.40,526.83 L403.87,528.26 L405.33,529.68 L406.79,531.09 L408.25,532.49 L409.71,533.89 L411.18,535.28 L412.64,536.66 L414.10,538.03 L415.56,539.39 L417.02,540.74 L418.49,542.09 L419.95,543.43 L421.41,544.76 L422.87,546.08 L424.33,547.40 L425.80,548.71 L427.26,550.00 L428.72,551.29 L430.18,552.57 L431.64,553.85 L433.11,555.11 L434.57,556.37 L436.03,557.62 L437.49,558.86 L438.95,560.09 L440.42,561.32 L441.88,562.53 L443.34,563.74 L444.80,564.94 L446.26,566.14 L447.73,567.32 L449.19,568.50 L450.65,569.67 L452.11,570.83 L453.57,571.99 L455.04,573.13 L456.50,574.27 L457.96,575.40 L459.42,576.53 L460.88,577.64 L462.35,578.75 L463.81,579.85 L465.27,580.95 L466.73,582.03 L468.19,583.11 L469.66,584.18 L471.12,585.24 L472.58,586.29 L474.04,587.34 L475.50,588.38 L476.97,589.41 L478.43,590.44 L479.89,591.45 L481.35,592.46 L482.81,593.46 L484.28,594.46 L485.74,595.45 L487.20,596.43 L488.66,597.40 L490.12,598.37 L491.59,599.33 L493.05,600.28 L494.51,601.22 L495.97,602.16 L497.43,603.10 L498.90,604.03 L500.36,604.99 L501.82,605.95 L503.28,606.92 L504.74,607.90 L506.21,608.89 L507.67,609.88 L509.13,610.87 L510.59,611.86 L512.05,612.84 L513.52,613.82 L514.98,614.79 L516.44,615.74 L517.90,616.69 L519.36,617.62 L520.83,618.53 L522.29,619.42 L523.75,620.29 L525.21,621.14 L526.67,621.98 L528.14,622.82 L529.60,623.65 L531.06,624.47 L532.52,625.29 L533.98,626.10 L535.45,626.90 L536.91,627.69 L538.37,628.48 L539.83,629.26 L541.29,630.03 L542.76,630.80 L544.22,631.56 L545.68,632.31 L547.14,633.06 L548.60,633.80 L550.07,634.53 L551.53,635.26 L552.99,635.98 L554.45,636.69 L555.91,637.40 L557.38,638.10 L558.84,638.80 L560.30,639.49 L561.76,640.17 L563.22,640.85 L564.69,641.52 L566.15,642.19 L567.61,642.85 L569.07,643.50 L570.53,644.15 L572.00,644.79 L573.46,645.43 L574.92,646.06 L576.38,646.69 L577.84,647.31 L579.31,647.93 L580.77,648.54 L582.23,649.15 L583.69,649.75 L585.15,650.34 L586.62,650.93 L588.08,651.52 L589.54,652.10 L591.00,652.67 L592.46,653.24 L593.93,653.81 L595.39,654.37 L596.85,654.92 L598.31,655.47 L599.77,656.02 L601.24,656.56 L602.70,657.09 L604.16,657.62 L605.62,658.15 L607.08,658.67 L608.55,659.18 L610.01,659.69 L611.47,660.20 L612.93,660.70 L614.39,661.19 L615.86,661.68 L617.32,662.16 L618.78,662.64 L620.24,663.12 L621.70,663.59 L623.17,664.05 L624.63,664.51 L626.09,664.96 L627.55,665.41 L629.01,665.85 L630.48,666.29 L631.94,666.73 L633.40,667.16 L634.86,667.59 L636.32,668.01 L637.79,668.44 L639.25,668.85 L640.71,669.26 L642.17,669.67 L643.63,670.08 L645.10,670.48 L646.56,670.88 L648.02,671.27 L649.48,671.66 L650.94,672.05 L652.41,672.43 L653.87,672.81 L655.33,673.19 L656.79,673.56 L658.25,673.93 L659.72,674.30 L661.18,674.66 L662.64,675.02 L664.10,675.38 L665.56,675.73 L667.03,676.08 L668.49,676.43 L669.95,676.77 L671.41,677.11 L672.87,677.45 L674.34,677.78 L675.80,678.12 L677.26,678.44 L678.72,678.77 L680.18,679.09 L681.65,679.41 L683.11,679.73 L684.57,680.05 L686.03,680.36 L687.49,680.67 L688.96,680.98 L690.42,681.28 L691.88,681.59 L693.34,681.88 L694.80,682.18 L696.27,682.48 L697.73,682.77 L699.19,683.06 L700.65,683.34 L702.11,683.63 L703.58,683.91 L705.04,684.19 L706.50,684.46 L707.96,684.74 L709.42,685.01 L710.89,685.28 L712.35,685.55 L713.81,685.81 L715.27,686.07 L716.73,686.33 L718.20,686.59 L719.66,686.84 L721.12,687.10 L722.58,687.34 L724.04,687.59 L725.51,687.84 L726.97,688.08 L728.43,688.32 L729.89,688.56 L731.35,688.79 L732.82,689.03 L734.28,689.26 L735.74,689.49 L737.20,689.72 L738.66,689.94 L740.13,690.16 L741.59,690.38 L743.05,690.60 L744.51,690.82 L745.97,691.03 L747.44,691.24 L748.90,691.45 L750.36,691.66 L751.82,691.87 L753.28,692.08 L754.75,692.28 L756.21,692.48 L757.67,692.68 L759.13,692.88 L760.59,693.08 L762.06,693.27 L763.52,693.47 L764.98,693.66 L766.44,693.85 L767.90,694.04 L769.37,694.23 L770.83,694.42 L772.29,694.60 L773.75,694.78 L775.21,694.96 L776.68,695.14 L778.14,695.32 L779.60,695.50 L781.06,695.67 L782.52,695.85 L783.99,696.02 L785.45,696.19 L786.91,696.36 L788.37,696.53 L789.83,696.69 L791.30,696.86 L792.76,697.02 L794.22,697.18 L795.68,697.34 L797.14,697.50 L798.61,697.66 L800.07,697.81 L801.53,697.97 L802.99,698.12 L804.45,698.27 L805.92,698.42 L807.38,698.57 L808.84,698.72 L810.30,698.86 L811.76,699.01 L813.23,699.15 L814.69,699.29 L816.15,699.43 L817.61,699.57 L819.07,699.70 L820.54,699.84 L822.00,699.97 L823.46,700.11 L824.92,700.24 L826.38,700.37 L827.85,700.50 L829.31,700.63 L830.77,700.76 L832.23,700.89 L833.69,701.02 L835.16,701.14 L836.62,701.27 L838.08,701.39 L839.54,701.51 L841.00,701.63 L842.47,701.75 L843.93,701.87 L845.39,701.99 L846.85,702.11 L848.31,702.23 L849.78,702.34 L851.24,702.46 L852.70,702.57 L854.16,702.68 L855.62,702.79 L857.09,702.91 L858.55,703.02 L860.01,703.12 L861.47,703.23 L862.93,703.34 L864.40,703.44 L865.86,703.55 L867.32,703.65 L868.78,703.76 L870.24,703.86 L871.71,703.96 L873.17,704.06 L874.63,704.16 L876.09,704.26 L877.55,704.35 L879.02,704.45 L880.48,704.54 L881.94,704.64 L883.40,704.73 L884.86,704.82 L886.33,704.91 L887.79,705.00 L889.25,705.09 L890.71,705.18 L892.17,705.27 L893.64,705.36 L895.10,705.44 L896.56,705.53 L898.02,705.61 L899.48,705.70 L900.95,705.78 L902.41,705.86 L903.87,705.94 L905.33,706.02 L906.79,706.10 L908.26,706.18 L909.72,706.26 L911.18,706.34 L912.64,706.42 L914.10,706.49 L915.57,706.57 L917.03,706.64 L918.49,706.71 L919.95,706.79 L921.41,706.86 L922.88,706.93 L924.34,707.00 L925.80,707.07 L927.26,707.14 L928.72,707.20 L930.19,707.27 L931.65,707.34 L933.11,707.40 L934.57,707.46 L936.03,707.52 L937.50,707.59 L938.96,707.64 L940.42,707.70 L941.88,707.76 L943.34,707.81 L944.81,707.87 L946.27,707.92 L947.73,707.97 L949.19,708.01 L950.65,708.06 L952.12,708.10 L953.58,708.14 L955.04,708.18 L956.50,708.21 L957.96,708.24 L959.43,708.26 L960.89,708.29 L962.35,708.30" stroke="#008000" stroke-width="3.3" stroke-dasharray="25.570 13.340" stroke-dashoffset="-14.0"/>
</g>
<text transform="translate(85.30,736.00) scale(0.9300,1)" text-anchor="middle" font-family='"Liberation Sans", sans-serif' font-weight="normal" font-size="24.00" >0</text>
<text transform="translate(231.05,736.00) scale(0.9300,1)" text-anchor="middle" font-family='"Liberation Sans", sans-serif' font-weight="normal" font-size="24.00" >0.5</text>
<text transform="translate(376.60,736.00) scale(0.9300,1)" text-anchor="middle" font-family='"Liberation Sans", sans-serif' font-weight="normal" font-size="24.00" >1</text>
<text transform="translate(524.50,736.00) scale(0.9300,1)" text-anchor="middle" font-family='"Liberation Sans", sans-serif' font-weight="normal" font-size="24.00" >1.5</text>
<text transform="translate(669.40,736.00) scale(0.9300,1)" text-anchor="middle" font-family='"Liberation Sans", sans-serif' font-weight="normal" font-size="24.00" >2</text>
<text transform="translate(814.00,736.00) scale(0.9300,1)" text-anchor="middle" font-family='"Liberation Sans", sans-serif' font-weight="normal" font-size="24.00" >2.5</text>
<text transform="translate(961.30,736.00) scale(0.9300,1)" text-anchor="middle" font-family='"Liberation Sans", sans-serif' font-weight="normal" font-size="24.00" >3</text>
<text transform="translate(78.70,717.40) scale(0.9300,1)" text-anchor="end" font-family='"Liberation Sans", sans-serif' font-weight="normal" font-size="24.00" >0</text>
<text transform="translate(78.70,646.30) scale(0.9300,1)" text-anchor="end" font-family='"Liberation Sans", sans-serif' font-weight="normal" font-size="24.00" >0.1</text>
<text transform="translate(78.70,578.20) scale(0.9300,1)" text-anchor="end" font-family='"Liberation Sans", sans-serif' font-weight="normal" font-size="24.00" >0.2</text>
<text transform="translate(78.70,507.50) scale(0.9300,1)" text-anchor="end" font-family='"Liberation Sans", sans-serif' font-weight="normal" font-size="24.00" >0.3</text>
<text transform="translate(78.70,438.30) scale(0.9300,1)" text-anchor="end" font-family='"Liberation Sans", sans-serif' font-weight="normal" font-size="24.00" >0.4</text>
<text transform="translate(78.70,368.70) scale(0.9300,1)" text-anchor="end" font-family='"Liberation Sans", sans-serif' font-weight="normal" font-size="24.00" >0.5</text>
<text transform="translate(78.70,297.70) scale(0.9300,1)" text-anchor="end" font-family='"Liberation Sans", sans-serif' font-weight="normal" font-size="24.00" >0.6</text>
<text transform="translate(78.70,228.10) scale(0.9300,1)" text-anchor="end" font-family='"Liberation Sans", sans-serif' font-weight="normal" font-size="24.00" >0.7</text>
<text transform="translate(78.70,158.30) scale(0.9300,1)" text-anchor="end" font-family='"Liberation Sans", sans-serif' font-weight="normal" font-size="24.00" >0.8</text>
<text transform="translate(78.70,88.30) scale(0.9300,1)" text-anchor="end" font-family='"Liberation Sans", sans-serif' font-weight="normal" font-size="24.00" >0.9</text>
<text transform="translate(78.70,18.50) scale(0.9300,1)" text-anchor="end" font-family='"Liberation Sans", sans-serif' font-weight="normal" font-size="24.00" >1</text>
<text transform="translate(30.3,403.1) rotate(-90) scale(1.155,1)" font-family='"Liberation Serif", serif' font-size="37.3">θ</text>
<text transform="translate(30.7,369.8) rotate(-90)" font-family='"Liberation Serif", serif' font-size="40">(η)</text>
<text transform="translate(509.30,777.29) scale(1.1854,1)" font-family='"Liberation Serif", serif' font-weight="normal" font-size="39.12" >η</text>
<path d="M220.9,87.05 H287.6 M286.9,85.8 H347.5" stroke="#c000c0" stroke-width="2.5" fill="none"/>
<path d="M234.4,143.3 H257.9 M272.0,143.3 H295.7 M309.8,142.1 H333.5 M347.7,142.1 H355.2" stroke="#008000" stroke-width="2.5" fill="none"/>
<text transform="translate(386.00,91.34) scale(0.9531,1)" font-family='"Liberation Sans", sans-serif' font-weight="normal" font-size="25.72" >SWCNT</text>
<text transform="translate(385.06,151.44) scale(0.9595,1)" font-family='"Liberation Sans", sans-serif' font-weight="normal" font-size="25.72" >MWCNT</text>
<text transform="translate(223.26,274.95) scale(0.9445,1)" font-family='"Liberation Serif", serif' font-weight="normal" font-size="27.06" >γ</text>
<text transform="translate(240.47,275.83) scale(0.9535,1)" font-family='"Liberation Sans", sans-serif' font-weight="normal" font-size="28.00" >= 0.01, 0.05, 0.1</text>
<line x1="340.4" y1="282.7" x2="256.2" y2="490.4" stroke="#000" stroke-width="1.9"/>
<polygon points="249.0,504.9 250.2,484.2 256.2,490.4 263.5,488.7" fill="#000" stroke="#000" stroke-width="0.9" stroke-linejoin="round"/>
<rect x="497.2" y="582.8" width="74.8" height="78.3" fill="none" stroke="#000" stroke-width="2"/>
<line x1="562.1" y1="582.8" x2="707.5" y2="232.8" stroke="#000" stroke-width="2.1"/>
<rect x="686.9" y="20" width="264.3" height="210.2" fill="#fff"/>
<g clip-path="url(#ic)" fill="none">
<line x1="714.44" y1="-21.28" x2="913.66" y2="271.88" stroke="#c000c0" stroke-width="2.9"/>
<line x1="732.44" y1="-21.28" x2="931.66" y2="271.88" stroke="#c000c0" stroke-width="2.9"/>
<line x1="745.84" y1="-21.28" x2="945.06" y2="271.88" stroke="#c000c0" stroke-width="2.9"/>
<line x1="721.70" y1="32.40" x2="946.52" y2="363.24" stroke="#008000" stroke-width="3.3" stroke-dasharray="24.7 13.8"/>
<line x1="740.30" y1="32.40" x2="965.12" y2="363.24" stroke="#008000" stroke-width="3.3" stroke-dasharray="24.7 13.8"/>
<line x1="753.10" y1="32.40" x2="977.92" y2="363.24" stroke="#008000" stroke-width="3.3" stroke-dasharray="24.7 13.8"/>
</g>
<g stroke="#000" fill="none">
<line x1="686.9" y1="21.2" x2="952.2" y2="21.2" stroke-width="2.3"/>
<line x1="686.9" y1="230.3" x2="952.2" y2="230.3" stroke-width="2.5"/>
<line x1="951.2" y1="21.2" x2="951.2" y2="230.2" stroke-width="2.1"/>
<line x1="687.3" y1="40.60" x2="689.8" y2="40.60" stroke-width="2"/>
<line x1="946.3" y1="40.60" x2="951.2" y2="40.60" stroke-width="1.8"/>
<line x1="687.3" y1="107.30" x2="689.8" y2="107.30" stroke-width="2"/>
<line x1="946.3" y1="107.30" x2="951.2" y2="107.30" stroke-width="1.8"/>
<line x1="687.3" y1="174.60" x2="689.8" y2="174.60" stroke-width="2"/>
<line x1="946.3" y1="174.60" x2="951.2" y2="174.60" stroke-width="1.8"/>
<line x1="789.00" y1="21.2" x2="789.00" y2="25" stroke-width="1.6"/>
<line x1="902.30" y1="21.2" x2="902.30" y2="25" stroke-width="1.6"/>
</g>
<text transform="translate(611.90,52.32) scale(0.9861,1)" font-family='"Liberation Sans", sans-serif' font-weight="bold" style="stroke:none" font-size="27.99" >0.455</text>
<text transform="translate(627.50,118.12) scale(0.9820,1)" font-family='"Liberation Sans", sans-serif' font-weight="bold" style="stroke:none" font-size="27.99" >0.45</text>
<text transform="translate(611.90,185.52) scale(0.9861,1)" font-family='"Liberation Sans", sans-serif' font-weight="bold" style="stroke:none" font-size="27.99" >0.445</text>
<text transform="translate(770.95,263.92) scale(0.9401,1)" font-family='"Liberation Sans", sans-serif' font-weight="bold" style="stroke:none" font-size="27.99" >0.7</text>
<text transform="translate(874.51,263.92) scale(0.9733,1)" font-family='"Liberation Sans", sans-serif' font-weight="bold" style="stroke:none" font-size="27.99" >0.72</text>
</svg>
</body></html>
